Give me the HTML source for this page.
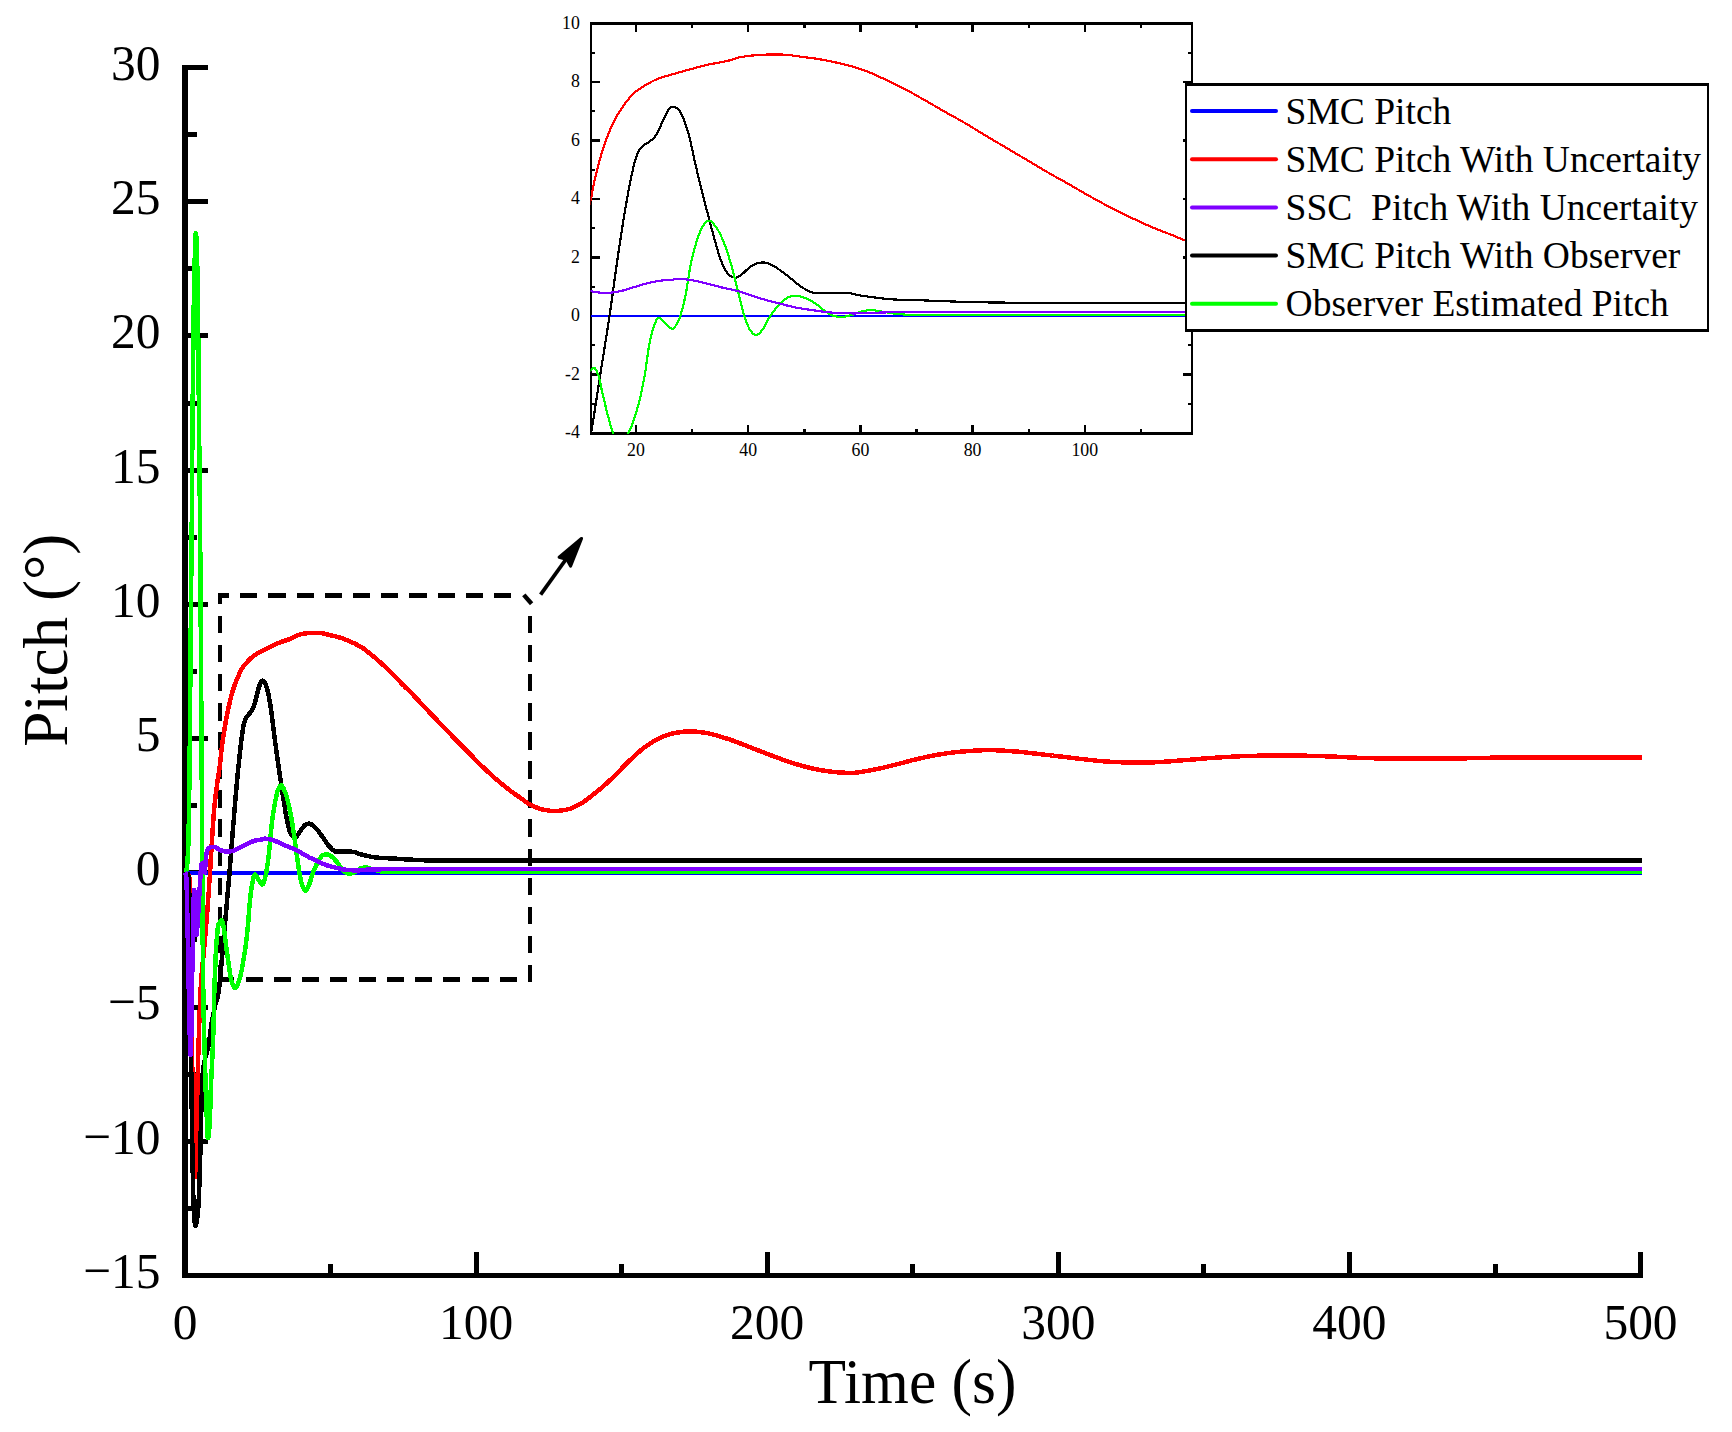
<!DOCTYPE html>
<html><head><meta charset="utf-8"><title>Pitch</title><style>html,body{margin:0;padding:0;background:#fff}svg{display:block}</style></head><body>
<svg width="1732" height="1432" viewBox="0 0 1732 1432">
<rect width="1732" height="1432" fill="#fff"/>
<defs><clipPath id="ic"><rect x="590.5" y="23.5" width="601.5" height="410.5"/></clipPath></defs>
<g stroke="#000" fill="none" shape-rendering="crispEdges">
<path stroke-width="6" d="M185 65V1278"/>
<path stroke-width="5" d="M182 1275.5H1643"/>
<path stroke-width="5" d="M185 1275.5H208M185 1208.4H197M185 1141.3H208M185 1074.2H197M185 1007.0H208M185 939.9H197M185 872.8H208M185 805.7H197M185 738.6H208M185 671.5H197M185 604.4H208M185 537.3H197M185 470.2H208M185 403.1H197M185 335.9H208M185 268.8H197M185 201.7H208M185 134.6H197M185 67.5H208"/>
<path stroke-width="5" d="M330.6 1276V1264M476.1 1276V1252M621.7 1276V1264M767.2 1276V1252M912.8 1276V1264M1058.3 1276V1252M1203.9 1276V1264M1349.4 1276V1252M1495.0 1276V1264M1640.5 1276V1252"/>
</g>
<path fill="none" stroke="#000" stroke-width="4.8" shape-rendering="crispEdges" d="M240.1 595.5H257.3M268.3 595.5H285.5M296.5 595.5H313.7M324.8 595.5H342.0M353.0 595.5H370.2M381.2 595.5H398.4M409.4 595.5H426.6M437.6 595.5H454.8M465.9 595.5H483.1M494.1 595.5H511.3M218.2 595.5H229.1M218.2 979.8H234.3M245.7 979.8H262.7M273.9 979.8H290.9M302.1 979.8H319.1M330.4 979.8H347.4M358.6 979.8H375.6M386.8 979.8H403.8M415.0 979.8H432.0M443.2 979.8H460.2M471.5 979.8H488.5M499.7 979.8H516.7"/>
<path fill="none" stroke="#000" stroke-width="4" shape-rendering="crispEdges" d="M220.2 593.2V604.3M220.2 615.7V633.2M530.0 615.7V633.2M220.2 644.8V662.3M530.0 644.8V662.3M220.2 673.9V691.4M530.0 673.9V691.4M220.2 703.0V720.5M530.0 703.0V720.5M220.2 732.1V749.6M530.0 732.1V749.6M220.2 761.2V778.7M530.0 761.2V778.7M220.2 790.3V807.8M530.0 790.3V807.8M220.2 819.4V836.9M530.0 819.4V836.9M220.2 848.5V866.0M530.0 848.5V866.0M220.2 877.6V895.1M530.0 877.6V895.1M220.2 906.7V924.2M530.0 906.7V924.2M220.2 935.8V953.3M530.0 935.8V953.3M220.2 964.9V982.0M530.0 964.9V982.0"/>
<path fill="none" stroke="#000" stroke-width="4.4" d="M523.8 594.9L531.6 603.8"/>
<g fill="none" stroke-width="4.5" stroke-linejoin="round" shape-rendering="crispEdges">
<path stroke="#0000ff" d="M185.0 872.8H1642"/>
<path stroke="#ff0000" d="M185.0 872.7L185.1 872.7L185.2 872.7L185.3 872.7L185.5 872.7L185.6 872.8L185.7 872.8L185.8 872.8L185.9 872.8L186.0 872.9L186.2 872.9L186.3 873.0L186.4 873.0L186.5 873.1L186.6 873.2L186.7 873.2L186.9 873.3L187.0 873.4L187.1 873.5L187.2 873.6L187.3 873.7L187.4 873.8L187.6 873.9L187.7 874.0L187.8 874.2L187.9 874.3L188.0 874.5L188.1 874.6L188.3 874.8L188.4 875.0L188.5 875.1L188.6 875.3L188.7 875.5L188.8 875.7L189.0 875.9L189.1 876.2L189.2 876.8L189.3 877.8L189.4 879.0L189.5 880.7L189.7 882.6L189.8 885.0L189.9 887.7L190.0 890.7L190.1 894.1L190.2 897.9L190.4 903.2L190.5 915.8L190.6 933.6L190.7 953.1L190.8 970.9L190.9 983.7L191.1 994.4L191.2 1004.3L191.3 1013.5L191.4 1021.9L191.5 1029.6L191.6 1036.5L191.8 1042.8L191.9 1048.6L192.0 1054.1L192.1 1059.1L192.2 1063.9L192.3 1068.5L192.5 1072.8L192.6 1077.0L192.7 1081.1L192.8 1085.1L192.9 1089.2L193.0 1093.2L193.2 1097.1L193.3 1100.9L193.4 1104.6L193.5 1108.1L193.6 1111.6L193.7 1115.1L193.8 1118.5L194.0 1121.9L194.1 1125.4L194.2 1128.8L194.3 1132.4L194.4 1136.0L194.5 1140.1L194.7 1144.7L194.8 1149.6L194.9 1154.5L195.0 1159.4L195.1 1164.0L195.2 1168.1L195.4 1171.6L195.5 1174.3L195.6 1176.0L195.7 1176.5L195.8 1175.2L195.9 1172.1L196.1 1167.7L196.2 1162.5L196.3 1156.9L196.4 1151.5L196.5 1145.3L196.6 1137.8L196.8 1129.5L196.9 1121.0L197.0 1112.6L197.1 1105.1L197.2 1098.7L197.3 1092.9L197.5 1087.3L197.6 1081.9L197.7 1076.7L197.8 1071.8L197.9 1067.0L198.0 1062.4L198.2 1058.0L198.3 1053.8L198.4 1049.8L198.5 1046.0L198.6 1042.3L198.7 1038.7L198.9 1035.1L199.0 1031.6L199.1 1028.2L199.2 1024.8L199.3 1021.5L199.4 1018.3L199.6 1015.1L199.7 1012.1L199.8 1009.0L199.9 1006.1L200.0 1003.3L200.1 1000.5L200.3 997.8L200.4 995.3L200.5 992.8L200.6 990.4L200.7 988.2L200.8 986.0L201.0 984.0L201.1 982.0L201.2 980.2L201.3 978.5L201.4 976.9L201.5 975.3L201.7 973.9L201.8 972.4L201.9 971.1L202.0 969.8L202.1 968.5L202.2 967.3L202.3 966.1L202.5 964.9L202.6 963.8L202.7 962.7L202.8 961.6L202.9 960.5L203.0 959.4L203.2 958.4L203.3 957.3L203.4 956.2L203.5 955.0L203.6 953.9L203.7 952.7L203.9 951.5L204.0 950.2L204.1 948.9L204.2 947.7L204.3 946.4L204.4 945.1L204.6 943.8L204.7 942.5L204.8 941.2L204.9 939.9L205.0 938.6L205.1 937.3L205.3 936.0L205.4 934.7L205.5 933.4L205.6 932.0L205.7 930.7L205.8 929.3L206.0 927.9L206.1 926.5L206.2 925.1L206.3 923.7L206.4 922.3L206.5 920.8L206.7 919.3L206.8 917.9L206.9 916.4L207.0 914.9L207.1 913.4L207.2 911.9L207.4 910.4L207.5 908.8L207.6 907.3L207.7 905.7L207.8 904.2L207.9 902.6L208.1 901.0L208.2 899.4L208.3 897.8L208.4 896.2L208.5 894.5L208.6 892.9L208.8 891.3L208.9 889.6L209.0 887.9L209.1 886.2L209.2 884.5L209.3 882.8L209.5 881.1L209.6 879.4L209.7 877.6L209.8 875.8L209.9 873.9L210.0 872.1L210.2 870.2L210.3 868.3L210.4 866.3L210.5 864.4L210.6 862.5L210.7 860.5L210.8 858.6L211.0 856.6L211.1 854.7L211.2 852.8L211.3 850.8L211.4 848.9L211.5 847.1L211.7 845.2L211.8 843.4L211.9 841.6L212.0 839.8L212.1 838.0L212.2 836.2L212.4 834.4L212.5 832.6L212.6 830.8L212.7 829.0L212.8 827.3L212.9 825.5L213.1 823.8L213.2 822.1L213.3 820.4L213.4 818.8L213.5 817.2L213.6 815.7L213.8 814.2L213.9 812.8L214.0 811.5L214.1 810.2L214.2 809.0L214.3 807.7L214.5 806.5L214.6 805.4L214.7 804.2L214.8 803.1L214.9 802.0L215.0 801.0L215.2 799.9L215.3 798.9L215.4 797.9L215.5 796.9L215.6 795.9L215.7 794.9L215.9 794.0L216.0 793.0L216.1 792.1L216.2 791.2L216.3 790.2L216.4 789.3L216.6 788.4L216.7 787.5L216.8 786.6L216.9 785.7L217.0 784.8L217.1 784.0L217.3 783.1L217.4 782.3L217.5 781.5L217.6 780.7L217.7 779.9L217.8 779.1L218.0 778.3L218.1 777.6L218.2 776.8L218.3 776.1L218.4 775.4L218.5 774.6L218.7 773.9L218.8 773.1L218.9 772.4L219.0 771.6L219.1 770.8L219.2 770.0L219.3 769.2L219.5 768.4L219.6 767.6L219.7 766.7L219.8 765.8L219.9 764.9L220.0 763.9L220.2 762.9L220.3 761.8L220.4 760.7L220.5 759.6L220.6 758.5L220.7 757.3L220.9 756.1L221.0 755.0L221.1 753.8L221.2 752.7L221.3 751.6L221.4 750.5L221.6 749.5L221.7 748.5L221.8 747.6L221.9 746.7L222.0 745.8L222.1 744.9L222.3 744.0L222.4 743.2L222.5 742.4L222.6 741.6L222.7 740.7L222.8 740.0L223.0 739.2L223.1 738.4L223.2 737.6L223.3 736.8L223.4 736.1L223.5 735.3L223.7 734.5L223.8 733.8L223.9 733.0L224.0 732.3L224.1 731.5L224.2 730.7L224.4 730.0L224.5 729.2L224.6 728.5L224.7 727.8L224.8 727.0L224.9 726.3L225.1 725.6L225.2 724.9L225.3 724.2L225.4 723.5L225.5 722.8L225.6 722.1L225.8 721.4L226.5 717.4L227.2 713.7L227.9 710.1L228.7 706.8L229.4 703.6L230.1 700.5L230.8 697.6L231.6 694.9L232.3 692.4L233.0 690.0L233.8 687.8L234.5 685.6L235.2 683.6L235.9 681.7L236.7 679.9L237.4 678.1L238.1 676.4L238.9 674.7L239.6 673.1L240.3 671.6L241.0 670.2L241.8 668.9L242.5 667.8L243.2 666.7L243.9 665.7L244.7 664.8L245.4 664.0L246.1 663.1L246.9 662.3L247.6 661.6L248.3 660.8L249.0 660.1L249.8 659.3L250.5 658.6L251.2 657.9L252.0 657.2L252.7 656.6L253.4 656.0L254.1 655.5L254.9 655.0L255.6 654.5L256.3 654.0L257.0 653.6L257.8 653.2L258.5 652.8L259.2 652.4L260.0 652.1L260.7 651.7L261.4 651.3L262.1 651.0L262.9 650.6L263.6 650.2L264.3 649.9L265.1 649.5L265.8 649.1L266.5 648.8L267.2 648.4L268.0 648.1L268.7 647.7L269.4 647.3L270.1 647.0L270.9 646.7L271.6 646.3L272.3 646.0L273.1 645.6L273.8 645.3L274.5 644.9L275.2 644.6L276.0 644.2L276.7 643.9L277.4 643.5L278.2 643.2L278.9 642.9L279.6 642.6L280.3 642.3L281.1 642.0L281.8 641.7L282.5 641.5L283.2 641.2L284.0 641.0L284.7 640.7L285.4 640.5L286.2 640.3L286.9 640.1L287.6 639.8L288.3 639.6L289.1 639.3L289.8 639.0L290.5 638.8L291.3 638.5L292.0 638.1L292.7 637.7L293.4 637.3L294.2 636.8L294.9 636.4L295.6 636.0L296.3 635.7L297.1 635.4L297.8 635.2L298.5 634.9L299.3 634.7L300.0 634.5L300.7 634.3L301.4 634.2L302.2 634.0L302.9 633.9L303.6 633.7L304.4 633.6L305.1 633.5L305.8 633.4L306.5 633.3L307.3 633.2L308.0 633.1L308.7 633.1L309.4 633.0L310.2 632.9L310.9 632.9L311.6 632.8L312.4 632.8L313.1 632.8L313.8 632.8L314.5 632.8L315.3 632.8L316.0 632.8L316.7 632.8L317.5 632.8L318.2 632.8L318.9 632.8L319.6 632.9L320.4 632.9L321.1 633.0L321.8 633.1L322.5 633.3L323.3 633.4L324.0 633.6L324.7 633.8L325.5 634.0L326.2 634.2L326.9 634.4L327.6 634.5L328.4 634.7L329.1 634.9L329.8 635.1L330.6 635.2L331.3 635.4L332.0 635.5L332.7 635.7L333.5 635.9L334.2 636.1L334.9 636.2L335.6 636.4L336.4 636.6L337.1 636.8L337.8 637.0L338.6 637.2L339.3 637.4L340.0 637.6L340.7 637.8L341.5 638.1L342.2 638.3L342.9 638.6L343.6 638.8L344.4 639.1L345.1 639.4L345.8 639.7L346.6 639.9L347.3 640.2L348.0 640.5L348.7 640.9L349.5 641.2L350.2 641.5L350.9 641.8L351.7 642.1L352.4 642.5L353.1 642.8L353.8 643.1L354.6 643.5L355.3 643.9L356.0 644.2L356.7 644.6L357.5 645.0L358.2 645.4L358.9 645.8L359.7 646.2L360.4 646.6L361.1 647.0L361.8 647.5L362.6 648.0L363.3 648.4L364.0 649.0L364.8 649.5L365.5 650.0L366.2 650.6L366.9 651.2L367.7 651.8L368.4 652.4L369.1 653.0L369.8 653.6L370.6 654.1L371.3 654.7L372.0 655.3L372.8 655.9L373.5 656.5L374.2 657.1L374.9 657.7L375.7 658.3L376.4 658.9L377.1 659.6L377.9 660.2L378.6 660.8L379.3 661.5L380.0 662.1L380.8 662.8L381.5 663.4L382.2 664.1L382.9 664.8L383.7 665.4L384.4 666.1L385.1 666.8L385.9 667.5L386.6 668.3L387.3 669.0L388.0 669.7L388.8 670.4L389.5 671.1L390.2 671.9L391.0 672.6L391.7 673.3L392.4 674.1L393.1 674.8L393.9 675.5L394.6 676.3L395.3 677.0L396.0 677.7L396.8 678.5L397.5 679.2L398.2 680.0L399.0 680.7L399.7 681.5L400.4 682.2L401.1 683.0L401.9 683.7L402.6 684.5L403.3 685.2L404.1 685.9L404.8 686.6L405.5 687.4L406.2 688.1L407.0 688.8L407.7 689.5L408.4 690.2L409.1 690.9L409.9 691.7L410.6 692.4L411.3 693.1L412.1 693.8L412.8 694.6L413.5 695.3L414.2 696.1L415.0 696.8L415.7 697.6L416.4 698.4L417.2 699.2L417.9 699.9L418.6 700.7L419.3 701.5L420.1 702.3L420.8 703.1L421.5 703.9L422.2 704.7L423.0 705.5L423.7 706.2L424.4 707.0L425.2 707.8L425.9 708.6L426.6 709.3L427.3 710.1L428.1 710.8L428.8 711.6L429.5 712.4L430.3 713.1L431.0 713.9L431.7 714.6L432.4 715.4L433.2 716.1L433.9 716.9L434.6 717.7L435.3 718.4L436.1 719.2L436.8 719.9L437.5 720.7L438.3 721.5L439.0 722.2L439.7 723.0L440.4 723.7L441.2 724.5L441.9 725.3L442.6 726.0L443.4 726.8L444.1 727.6L444.8 728.3L445.5 729.1L446.3 729.8L447.0 730.6L447.7 731.4L448.4 732.1L449.2 732.9L449.9 733.7L450.6 734.4L451.4 735.2L452.1 736.0L452.8 736.7L453.5 737.5L454.3 738.3L455.0 739.0L455.7 739.8L456.5 740.5L457.2 741.3L457.9 742.0L458.6 742.7L459.4 743.5L460.1 744.2L460.8 744.9L461.5 745.6L462.3 746.4L463.0 747.1L463.7 747.8L464.5 748.5L465.2 749.2L465.9 749.9L466.6 750.7L467.4 751.4L468.1 752.1L468.8 752.9L469.6 753.6L470.3 754.3L471.0 755.1L471.7 755.8L472.5 756.6L473.2 757.4L473.9 758.1L474.6 758.9L475.4 759.6L476.1 760.4L476.8 761.1L477.6 761.8L478.3 762.6L479.0 763.3L479.7 764.0L480.5 764.7L481.2 765.4L481.9 766.1L482.6 766.8L483.4 767.5L484.1 768.2L484.8 768.9L485.6 769.6L486.3 770.3L487.0 770.9L487.7 771.6L488.5 772.3L489.2 772.9L489.9 773.6L490.7 774.3L491.4 774.9L492.1 775.6L492.8 776.2L493.6 776.9L494.3 777.5L495.0 778.2L495.7 778.8L496.5 779.4L497.2 780.1L497.9 780.7L498.7 781.3L499.4 781.9L500.1 782.5L500.8 783.1L501.6 783.7L502.3 784.4L503.0 785.0L503.8 785.5L504.5 786.1L505.2 786.7L505.9 787.3L506.7 787.9L507.4 788.5L508.1 789.1L508.8 789.6L509.6 790.2L510.3 790.7L511.0 791.3L511.8 791.8L512.5 792.4L513.2 792.9L513.9 793.4L514.7 793.9L515.4 794.4L516.1 794.9L516.9 795.4L517.6 795.9L518.3 796.4L519.0 796.9L519.8 797.4L520.5 797.9L521.2 798.4L521.9 798.9L522.7 799.5L523.4 800.0L524.1 800.6L524.9 801.1L525.6 801.7L526.3 802.2L527.0 802.7L527.8 803.2L528.5 803.6L529.2 804.0L530.0 804.4L530.7 804.8L531.4 805.1L532.1 805.5L532.9 805.9L533.6 806.2L534.3 806.5L535.0 806.9L535.8 807.2L536.5 807.5L537.2 807.8L538.0 808.1L538.7 808.3L539.4 808.6L540.1 808.8L540.9 809.0L541.6 809.2L542.3 809.4L543.1 809.5L543.8 809.7L544.5 809.8L545.2 810.0L546.0 810.1L546.7 810.2L547.4 810.4L548.1 810.5L548.9 810.6L549.6 810.7L550.3 810.8L551.1 810.9L551.8 811.0L552.5 811.0L553.2 811.0L554.0 811.1L554.7 811.1L555.4 811.0L556.2 811.0L556.9 811.0L557.6 810.9L558.3 810.9L559.1 810.8L559.8 810.7L560.5 810.6L561.2 810.5L562.0 810.4L562.7 810.3L563.4 810.2L566.3 809.7L569.3 809.0L572.2 807.9L575.1 806.6L578.0 805.1L580.9 803.6L583.8 801.7L586.7 799.6L589.6 797.4L592.5 795.1L595.5 792.8L598.4 790.4L601.3 788.0L604.2 785.4L607.1 782.9L610.0 780.2L612.9 777.5L615.8 774.6L618.7 771.6L621.6 768.6L624.6 765.5L627.5 762.6L630.4 759.8L633.3 757.1L636.2 754.4L639.1 751.8L642.0 749.3L644.9 747.1L647.8 745.0L650.8 743.1L653.7 741.3L656.6 739.6L659.5 738.1L662.4 736.8L665.3 735.7L668.2 734.7L671.1 733.9L674.0 733.1L677.0 732.6L679.9 732.2L682.8 731.8L685.7 731.6L688.6 731.4L691.5 731.3L694.4 731.5L697.3 731.8L700.2 732.1L703.2 732.5L706.1 732.9L709.0 733.5L711.9 734.2L714.8 734.9L717.7 735.8L720.6 736.7L723.5 737.6L726.4 738.5L729.4 739.4L732.3 740.4L735.2 741.5L738.1 742.6L741.0 743.7L743.9 744.8L746.8 746.0L749.7 747.1L752.6 748.2L755.6 749.3L758.5 750.5L761.4 751.6L764.3 752.8L767.2 753.9L770.1 755.0L773.0 756.1L775.9 757.1L778.8 758.2L781.8 759.3L784.7 760.3L787.6 761.4L790.5 762.4L793.4 763.3L796.3 764.2L799.2 765.0L802.1 765.8L805.0 766.6L808.0 767.4L810.9 768.1L813.8 768.8L816.7 769.4L819.6 769.9L822.5 770.4L825.4 770.9L828.3 771.3L831.2 771.7L834.2 772.0L837.1 772.3L840.0 772.5L842.9 772.7L845.8 772.8L848.7 772.9L851.6 772.9L854.5 772.8L857.4 772.5L860.4 772.1L863.3 771.6L866.2 771.1L869.1 770.5L872.0 770.0L874.9 769.5L877.8 768.9L880.7 768.3L883.6 767.6L886.6 766.9L889.5 766.2L892.4 765.4L895.3 764.7L898.2 764.0L901.1 763.2L904.0 762.5L906.9 761.7L909.8 760.9L912.8 760.1L915.7 759.4L918.6 758.7L921.5 758.1L924.4 757.4L927.3 756.8L930.2 756.2L933.1 755.6L936.0 755.0L938.9 754.5L941.9 754.1L944.8 753.6L947.7 753.2L950.6 752.8L953.5 752.4L956.4 752.1L959.3 751.8L962.2 751.5L965.1 751.3L968.1 751.1L971.0 750.9L973.9 750.7L976.8 750.5L979.7 750.4L982.6 750.2L985.5 750.2L988.4 750.1L991.3 750.1L994.3 750.2L997.2 750.3L1000.1 750.4L1003.0 750.6L1005.9 750.8L1008.8 751.0L1011.7 751.2L1014.6 751.4L1017.5 751.6L1020.5 751.9L1023.4 752.2L1026.3 752.6L1029.2 752.9L1032.1 753.2L1035.0 753.6L1037.9 753.9L1040.8 754.2L1043.7 754.6L1046.7 754.9L1049.6 755.2L1052.5 755.6L1055.4 755.9L1058.3 756.3L1061.2 756.6L1064.1 756.9L1067.0 757.3L1069.9 757.6L1072.9 758.0L1075.8 758.3L1078.7 758.7L1081.6 759.0L1084.5 759.3L1087.4 759.7L1090.3 760.0L1093.2 760.3L1096.1 760.7L1099.1 761.0L1102.0 761.2L1104.9 761.4L1107.8 761.6L1110.7 761.8L1113.6 761.9L1116.5 762.0L1119.4 762.2L1122.3 762.3L1125.3 762.4L1128.2 762.5L1131.1 762.6L1134.0 762.7L1136.9 762.7L1139.8 762.7L1142.7 762.7L1145.6 762.6L1148.5 762.5L1151.5 762.4L1154.4 762.3L1157.3 762.1L1160.2 761.9L1163.1 761.8L1166.0 761.6L1168.9 761.4L1171.8 761.2L1174.7 760.9L1177.7 760.7L1180.6 760.5L1183.5 760.2L1186.4 760.0L1189.3 759.8L1192.2 759.5L1195.1 759.3L1198.0 759.0L1200.9 758.8L1203.8 758.5L1206.8 758.3L1209.7 758.1L1212.6 757.9L1215.5 757.7L1218.4 757.5L1221.3 757.3L1224.2 757.1L1227.1 757.0L1230.0 756.8L1233.0 756.6L1235.9 756.5L1238.8 756.3L1241.7 756.2L1244.6 756.1L1247.5 756.0L1250.4 755.9L1253.3 755.8L1256.2 755.8L1259.2 755.7L1262.1 755.6L1265.0 755.6L1267.9 755.5L1270.8 755.5L1273.7 755.4L1276.6 755.4L1279.5 755.4L1282.4 755.4L1285.4 755.4L1288.3 755.4L1291.2 755.4L1294.1 755.4L1297.0 755.5L1299.9 755.5L1302.8 755.6L1305.7 755.7L1308.6 755.8L1311.6 755.9L1314.5 755.9L1317.4 756.0L1320.3 756.1L1323.2 756.2L1326.1 756.3L1329.0 756.4L1331.9 756.5L1334.8 756.7L1337.8 756.8L1340.7 756.9L1343.6 757.1L1346.5 757.2L1349.4 757.4L1352.3 757.5L1355.2 757.7L1358.1 757.8L1361.0 757.9L1364.0 758.0L1366.9 758.1L1369.8 758.1L1372.7 758.2L1375.6 758.3L1378.5 758.4L1381.4 758.5L1384.3 758.5L1387.2 758.6L1390.2 758.7L1393.1 758.7L1396.0 758.7L1398.9 758.7L1401.8 758.7L1404.7 758.7L1407.6 758.7L1410.5 758.7L1413.4 758.7L1416.4 758.7L1419.3 758.7L1422.2 758.7L1425.1 758.7L1428.0 758.7L1430.9 758.7L1433.8 758.7L1436.7 758.7L1439.6 758.7L1442.6 758.7L1445.5 758.6L1448.4 758.6L1451.3 758.6L1454.2 758.5L1457.1 758.4L1460.0 758.4L1462.9 758.3L1465.8 758.3L1468.8 758.2L1471.7 758.2L1474.6 758.1L1477.5 758.1L1480.4 758.0L1483.3 757.9L1486.2 757.9L1489.1 757.8L1492.0 757.7L1495.0 757.7L1497.9 757.6L1500.8 757.6L1503.7 757.5L1506.6 757.5L1509.5 757.5L1512.4 757.5L1515.3 757.5L1518.2 757.5L1521.1 757.4L1524.1 757.4L1527.0 757.4L1529.9 757.4L1532.8 757.4L1535.7 757.4L1538.6 757.4L1541.5 757.4L1544.4 757.4L1547.3 757.4L1550.3 757.4L1553.2 757.4L1556.1 757.4L1559.0 757.4L1561.9 757.4L1564.8 757.4L1567.7 757.4L1570.6 757.4L1573.5 757.4L1576.5 757.4L1579.4 757.4L1582.3 757.4L1585.2 757.4L1588.1 757.4L1591.0 757.4L1593.9 757.4L1596.8 757.4L1599.7 757.4L1602.7 757.4L1605.6 757.5L1608.5 757.5L1611.4 757.5L1614.3 757.5L1617.2 757.5L1620.1 757.5L1623.0 757.5L1625.9 757.5L1628.9 757.6L1631.8 757.6L1634.7 757.6L1637.6 757.6L1640.5 757.6H1642"/>
<path stroke="#000000" d="M185.0 872.7L185.1 872.7L185.2 872.7L185.3 872.7L185.5 872.7L185.6 872.7L185.7 872.8L185.8 872.8L185.9 872.8L186.0 872.8L186.2 872.9L186.3 872.9L186.4 873.0L186.5 873.0L186.6 873.1L186.7 873.1L186.9 873.2L187.0 873.2L187.1 873.3L187.2 873.4L187.3 873.5L187.4 873.5L187.6 873.6L187.7 873.7L187.8 873.8L187.9 873.9L188.0 874.0L188.1 874.4L188.3 875.1L188.4 876.0L188.5 877.3L188.6 878.9L188.7 880.8L188.8 882.9L189.0 885.4L189.1 888.1L189.2 891.0L189.3 894.2L189.4 897.7L189.5 901.6L189.7 908.8L189.8 919.3L189.9 932.1L190.0 946.1L190.1 960.3L190.2 973.7L190.4 985.7L190.5 997.6L190.6 1009.7L190.7 1021.8L190.8 1033.6L190.9 1045.1L191.1 1056.0L191.2 1066.2L191.3 1076.0L191.4 1085.4L191.5 1094.3L191.6 1102.6L191.8 1110.5L191.9 1118.1L192.0 1125.4L192.1 1132.5L192.2 1139.4L192.3 1146.2L192.5 1153.1L192.6 1160.3L192.7 1167.6L192.8 1174.7L192.9 1181.4L193.0 1187.4L193.2 1192.3L193.3 1196.1L193.4 1199.6L193.5 1202.8L193.6 1205.8L193.7 1208.5L193.8 1210.9L194.0 1213.1L194.1 1215.1L194.2 1216.8L194.3 1218.2L194.4 1219.5L194.5 1220.8L194.7 1222.0L194.8 1223.1L194.9 1224.1L195.0 1224.8L195.1 1225.4L195.2 1225.7L195.4 1225.7L195.5 1225.6L195.6 1225.5L195.7 1225.3L195.8 1225.0L195.9 1224.8L196.1 1224.4L196.2 1224.1L196.3 1223.7L196.4 1223.3L196.5 1222.9L196.6 1222.4L196.8 1221.8L196.9 1221.1L197.0 1220.4L197.1 1219.5L197.2 1218.6L197.3 1217.6L197.5 1216.5L197.6 1215.4L197.7 1214.2L197.8 1213.0L197.9 1211.7L198.0 1210.4L198.2 1208.9L198.3 1207.2L198.4 1205.4L198.5 1203.5L198.6 1201.5L198.7 1199.3L198.9 1197.0L199.0 1194.6L199.1 1192.0L199.2 1189.0L199.3 1185.8L199.4 1182.3L199.6 1178.6L199.7 1174.7L199.8 1170.7L199.9 1166.5L200.0 1162.3L200.1 1158.0L200.3 1153.7L200.4 1149.3L200.5 1144.6L200.6 1139.6L200.7 1134.4L200.8 1129.1L201.0 1123.9L201.1 1118.9L201.2 1114.2L201.3 1109.9L201.4 1105.9L201.5 1101.8L201.7 1097.8L201.8 1093.8L201.9 1090.1L202.0 1086.7L202.1 1083.6L202.2 1080.9L202.3 1078.8L202.5 1077.1L202.6 1075.6L202.7 1074.2L202.8 1073.0L202.9 1071.8L203.0 1070.7L203.2 1069.7L203.3 1068.8L203.4 1067.9L203.5 1067.1L203.6 1066.3L203.7 1065.5L203.9 1064.8L204.0 1064.1L204.1 1063.4L204.2 1062.8L204.3 1062.2L204.4 1061.6L204.6 1061.0L204.7 1060.4L204.8 1059.9L204.9 1059.4L205.0 1058.9L205.1 1058.4L205.3 1058.0L205.4 1057.5L205.5 1057.1L205.6 1056.7L205.7 1056.3L205.8 1055.9L206.0 1055.5L206.1 1055.1L206.2 1054.7L206.3 1054.3L206.4 1053.9L206.5 1053.5L206.7 1053.1L206.8 1052.7L206.9 1052.3L207.0 1051.9L207.1 1051.5L207.2 1051.1L207.4 1050.6L207.5 1050.2L207.6 1049.7L207.7 1049.3L207.8 1048.8L207.9 1048.2L208.1 1047.7L208.2 1047.2L208.3 1046.6L208.4 1046.0L208.5 1045.3L208.6 1044.7L208.8 1044.0L208.9 1043.2L209.0 1042.4L209.1 1041.6L209.2 1040.8L209.3 1040.0L209.5 1039.1L209.6 1038.2L209.7 1037.3L209.8 1036.4L209.9 1035.5L210.0 1034.6L210.2 1033.7L210.3 1032.8L210.4 1031.9L210.5 1031.0L210.6 1030.1L210.7 1029.2L210.8 1028.4L211.0 1027.5L211.1 1026.7L211.2 1025.9L211.3 1025.1L211.4 1024.4L211.5 1023.7L211.7 1023.0L211.8 1022.3L211.9 1021.7L212.0 1021.0L212.1 1020.3L212.2 1019.7L212.4 1019.0L212.5 1018.4L212.6 1017.8L212.7 1017.1L212.8 1016.5L212.9 1015.9L213.1 1015.3L213.2 1014.7L213.3 1014.1L213.4 1013.5L213.5 1012.9L213.6 1012.4L213.8 1011.8L213.9 1011.2L214.0 1010.7L214.1 1010.1L214.2 1009.6L214.3 1009.0L214.5 1008.5L214.6 1007.9L214.7 1007.4L214.8 1006.9L214.9 1006.3L215.0 1005.8L215.2 1005.3L215.3 1004.8L215.4 1004.4L215.5 1003.9L215.6 1003.5L215.7 1003.1L215.9 1002.7L216.0 1002.3L216.1 1001.9L216.2 1001.5L216.3 1001.1L216.4 1000.7L216.6 1000.4L216.7 1000.0L216.8 999.6L216.9 999.2L217.0 998.9L217.1 998.5L217.3 998.1L217.4 997.7L217.5 997.2L217.6 996.8L217.7 996.3L217.8 995.9L218.0 995.4L218.1 994.9L218.2 994.3L218.3 993.8L218.4 993.2L218.5 992.6L218.7 992.0L218.8 991.3L218.9 990.6L219.0 989.8L219.1 988.9L219.2 987.8L219.3 986.6L219.5 985.3L219.6 984.0L219.7 982.7L219.8 981.4L219.9 980.2L220.0 979.0L220.2 977.7L220.3 976.5L220.4 975.2L220.5 974.0L220.6 972.7L220.7 971.4L220.9 970.1L221.0 968.9L221.1 967.6L221.2 966.3L221.3 965.0L221.4 963.7L221.6 962.3L221.7 961.0L221.8 959.7L221.9 958.4L222.0 957.0L222.1 955.7L222.3 954.4L222.4 953.0L222.5 951.7L222.6 950.4L222.7 949.0L222.8 947.7L223.0 946.3L223.1 945.0L223.2 943.7L223.3 942.3L223.4 941.0L223.5 939.6L223.7 938.3L223.8 937.0L223.9 935.7L224.0 934.3L224.1 933.0L224.2 931.7L224.4 930.4L224.5 929.1L224.6 927.8L224.7 926.5L224.8 925.2L224.9 923.9L225.1 922.6L225.2 921.3L225.3 920.0L225.4 918.7L225.5 917.4L225.6 916.2L225.8 914.9L226.5 906.8L227.2 898.8L227.9 890.6L228.7 882.3L229.4 873.8L230.1 865.1L230.8 856.0L231.6 846.7L232.3 837.4L233.0 828.2L233.8 819.3L234.5 810.5L235.2 801.8L235.9 793.2L236.7 785.0L237.4 777.3L238.1 769.7L238.9 762.4L239.6 755.6L240.3 749.1L241.0 742.9L241.8 737.1L242.5 731.9L243.2 727.6L243.9 723.9L244.7 721.2L245.4 719.3L246.1 717.8L246.9 716.6L247.6 715.7L248.3 714.9L249.0 714.1L249.8 713.3L250.5 712.3L251.2 711.4L252.0 710.3L252.7 709.1L253.4 707.3L254.1 705.0L254.9 702.5L255.6 700.0L256.3 697.2L257.0 694.2L257.8 691.2L258.5 688.6L259.2 686.3L260.0 684.1L260.7 682.4L261.4 681.4L262.1 680.7L262.9 680.7L263.6 681.2L264.3 681.9L265.1 682.9L265.8 684.6L266.5 686.9L267.2 689.5L268.0 692.3L268.7 695.7L269.4 699.5L270.1 703.7L270.9 708.3L271.6 713.6L272.3 719.5L273.1 725.5L273.8 731.3L274.5 736.9L275.2 742.4L276.0 747.8L276.7 753.2L277.4 758.4L278.2 763.4L278.9 768.4L279.6 773.3L280.3 778.1L281.1 783.0L281.8 787.9L282.5 792.8L283.2 797.5L284.0 802.2L284.7 806.9L285.4 811.5L286.2 815.8L286.9 819.6L287.6 823.1L288.3 826.4L289.1 829.1L289.8 831.3L290.5 833.1L291.3 834.7L292.0 835.8L292.7 836.5L293.4 837.1L294.2 837.4L294.9 837.6L295.6 837.4L296.3 836.8L297.1 835.9L297.8 834.9L298.5 834.0L299.3 832.8L300.0 831.6L300.7 830.4L301.4 829.2L302.2 828.2L302.9 827.4L303.6 826.5L304.4 825.7L305.1 825.0L305.8 824.5L306.5 824.2L307.3 824.0L308.0 823.8L308.7 823.7L309.4 823.7L310.2 823.8L310.9 824.1L311.6 824.6L312.4 825.1L313.1 825.6L313.8 826.1L314.5 826.8L315.3 827.6L316.0 828.4L316.7 829.3L317.5 830.1L318.2 831.0L318.9 831.9L319.6 832.9L320.4 833.8L321.1 834.9L321.8 835.9L322.5 836.9L323.3 837.9L324.0 838.9L324.7 840.0L325.5 841.0L326.2 842.1L326.9 843.2L327.6 844.3L328.4 845.3L329.1 846.2L329.8 847.0L330.6 847.7L331.3 848.5L332.0 849.2L332.7 849.8L333.5 850.3L334.2 850.8L334.9 851.3L335.6 851.6L336.4 851.6L337.1 851.6L337.8 851.6L338.6 851.6L339.3 851.6L340.0 851.6L340.7 851.6L341.5 851.6L342.2 851.6L342.9 851.6L343.6 851.6L344.4 851.6L345.1 851.6L345.8 851.6L346.6 851.6L347.3 851.6L348.0 851.6L348.7 851.6L349.5 851.7L350.2 851.7L350.9 851.7L351.7 851.8L352.4 851.8L353.1 851.9L353.8 851.9L354.6 852.1L355.3 852.3L356.0 852.6L356.7 852.8L357.5 853.2L358.2 853.4L358.9 853.7L359.7 854.0L360.4 854.2L361.1 854.4L361.8 854.6L362.6 854.7L363.3 854.9L364.0 855.1L364.8 855.3L365.5 855.4L366.2 855.6L366.9 855.8L367.7 855.9L368.4 856.1L369.1 856.3L369.8 856.4L370.6 856.6L371.3 856.8L372.0 856.9L372.8 857.1L373.5 857.2L374.2 857.3L374.9 857.4L375.7 857.5L376.4 857.6L377.1 857.6L377.9 857.7L378.6 857.7L379.3 857.8L380.0 857.8L380.8 857.9L381.5 857.9L382.2 858.0L382.9 858.0L383.7 858.0L384.4 858.1L385.1 858.1L385.9 858.1L386.6 858.2L387.3 858.2L388.0 858.2L388.8 858.3L389.5 858.3L390.2 858.3L391.0 858.4L391.7 858.4L392.4 858.5L393.1 858.5L393.9 858.6L394.6 858.6L395.3 858.7L396.0 858.7L396.8 858.8L397.5 858.8L398.2 858.9L399.0 858.9L399.7 859.0L400.4 859.0L401.1 859.1L401.9 859.1L402.6 859.2L403.3 859.2L404.1 859.2L404.8 859.3L405.5 859.3L406.2 859.4L407.0 859.4L407.7 859.5L408.4 859.5L409.1 859.5L409.9 859.6L410.6 859.6L411.3 859.7L412.1 859.7L412.8 859.8L413.5 859.8L414.2 859.8L415.0 859.9L415.7 859.9L416.4 860.0L417.2 860.0L417.9 860.0L418.6 860.1L419.3 860.1L420.1 860.1L420.8 860.2L421.5 860.2L422.2 860.2L423.0 860.2L423.7 860.2L424.4 860.3L425.2 860.3L425.9 860.3L426.6 860.3L427.3 860.3L428.1 860.3L428.8 860.3L429.5 860.4L430.3 860.4L431.0 860.4L431.7 860.4L432.4 860.4L433.2 860.4L433.9 860.4L434.6 860.5L435.3 860.5L436.1 860.5L436.8 860.5L437.5 860.5L438.3 860.5L439.0 860.5L439.7 860.5L440.4 860.6L441.2 860.6L441.9 860.6L442.6 860.6L443.4 860.6L444.1 860.6L444.8 860.6L445.5 860.6L446.3 860.6L447.0 860.6L447.7 860.6L448.4 860.6L449.2 860.6L449.9 860.7L450.6 860.7L451.4 860.7L452.1 860.7L452.8 860.7L453.5 860.7L454.3 860.7L455.0 860.7L455.7 860.7L456.5 860.7L457.2 860.7L457.9 860.7L458.6 860.7L459.4 860.7L460.1 860.7L460.8 860.7L461.5 860.7L462.3 860.7L463.0 860.7L463.7 860.7L464.5 860.7L465.2 860.7L465.9 860.7L466.6 860.7L467.4 860.7L468.1 860.7L468.8 860.7L469.6 860.7L470.3 860.7L471.0 860.7L471.7 860.7L472.5 860.7L473.2 860.7L473.9 860.7L474.6 860.7L475.4 860.7L476.1 860.7L476.8 860.7L477.6 860.7L478.3 860.7L479.0 860.7L479.7 860.7L480.5 860.7L481.2 860.7L481.9 860.7L482.6 860.7L483.4 860.7L484.1 860.7L484.8 860.7L485.6 860.7L486.3 860.7L487.0 860.7L487.7 860.7L488.5 860.7L489.2 860.7L489.9 860.7L490.7 860.7L491.4 860.7L492.1 860.7L492.8 860.7L493.6 860.7L494.3 860.7L495.0 860.7L495.7 860.7L496.5 860.7L497.2 860.7L497.9 860.7L498.7 860.7L499.4 860.7L500.1 860.7L500.8 860.7L501.6 860.7L502.3 860.7L503.0 860.7L503.8 860.7L504.5 860.7L505.2 860.7L505.9 860.7L506.7 860.7L507.4 860.7L508.1 860.7L508.8 860.7L509.6 860.7L510.3 860.7L511.0 860.7L511.8 860.7L512.5 860.7L513.2 860.7L513.9 860.7L514.7 860.7L515.4 860.7L516.1 860.7L516.9 860.7L517.6 860.7L518.3 860.7L519.0 860.7L519.8 860.7L520.5 860.7L521.2 860.7L521.9 860.7L522.7 860.7L523.4 860.7L524.1 860.7L524.9 860.7L525.6 860.7L526.3 860.7L527.0 860.7L527.8 860.7L528.5 860.7L529.2 860.7L530.0 860.7L530.7 860.7L531.4 860.7L532.1 860.7L532.9 860.7L533.6 860.7L534.3 860.7L535.0 860.7L535.8 860.7L536.5 860.7L537.2 860.7L538.0 860.7L538.7 860.7L539.4 860.7L540.1 860.7L540.9 860.7L541.6 860.7L542.3 860.7L543.1 860.7L543.8 860.7L544.5 860.7L545.2 860.7L546.0 860.7L546.7 860.7L547.4 860.7L548.1 860.7L548.9 860.7L549.6 860.7L550.3 860.7L551.1 860.7L551.8 860.7L552.5 860.7L553.2 860.7L554.0 860.7L554.7 860.7L555.4 860.7L556.2 860.7L556.9 860.7L557.6 860.7L558.3 860.7L559.1 860.7L559.8 860.7L560.5 860.7L561.2 860.7L562.0 860.7L562.7 860.7L563.4 860.7L566.3 860.7L569.3 860.7L572.2 860.7L575.1 860.7L578.0 860.7L580.9 860.7L583.8 860.7L586.7 860.7L589.6 860.7L592.5 860.7L595.5 860.7L598.4 860.7L601.3 860.7L604.2 860.7L607.1 860.7L610.0 860.7L612.9 860.7L615.8 860.7L618.7 860.7L621.6 860.7L624.6 860.7L627.5 860.7L630.4 860.7L633.3 860.7L636.2 860.7L639.1 860.7L642.0 860.7L644.9 860.7L647.8 860.7L650.8 860.7L653.7 860.7L656.6 860.7L659.5 860.7L662.4 860.7L665.3 860.7L668.2 860.7L671.1 860.7L674.0 860.7L677.0 860.7L679.9 860.7L682.8 860.7L685.7 860.7L688.6 860.7L691.5 860.7L694.4 860.7L697.3 860.7L700.2 860.7L703.2 860.7L706.1 860.7L709.0 860.7L711.9 860.7L714.8 860.7L717.7 860.7L720.6 860.7L723.5 860.7L726.4 860.7L729.4 860.7L732.3 860.7L735.2 860.7L738.1 860.7L741.0 860.7L743.9 860.7L746.8 860.7L749.7 860.7L752.6 860.7L755.6 860.7L758.5 860.7L761.4 860.7L764.3 860.7L767.2 860.7L770.1 860.7L773.0 860.7L775.9 860.7L778.8 860.7L781.8 860.7L784.7 860.7L787.6 860.7L790.5 860.7L793.4 860.7L796.3 860.7L799.2 860.7L802.1 860.7L805.0 860.7L808.0 860.7L810.9 860.7L813.8 860.7L816.7 860.7L819.6 860.7L822.5 860.7L825.4 860.7L828.3 860.7L831.2 860.7L834.2 860.7L837.1 860.7L840.0 860.7L842.9 860.7L845.8 860.7L848.7 860.7L851.6 860.7L854.5 860.7L857.4 860.7L860.4 860.7L863.3 860.7L866.2 860.7L869.1 860.7L872.0 860.7L874.9 860.7L877.8 860.7L880.7 860.7L883.6 860.7L886.6 860.7L889.5 860.7L892.4 860.7L895.3 860.7L898.2 860.7L901.1 860.7L904.0 860.7L906.9 860.7L909.8 860.7L912.8 860.7L915.7 860.7L918.6 860.7L921.5 860.7L924.4 860.7L927.3 860.7L930.2 860.7L933.1 860.7L936.0 860.7L938.9 860.7L941.9 860.7L944.8 860.7L947.7 860.7L950.6 860.7L953.5 860.7L956.4 860.7L959.3 860.7L962.2 860.7L965.1 860.7L968.1 860.7L971.0 860.7L973.9 860.7L976.8 860.7L979.7 860.7L982.6 860.7L985.5 860.7L988.4 860.7L991.3 860.7L994.3 860.7L997.2 860.7L1000.1 860.7L1003.0 860.7L1005.9 860.7L1008.8 860.7L1011.7 860.7L1014.6 860.7L1017.5 860.7L1020.5 860.7L1023.4 860.7L1026.3 860.7L1029.2 860.7L1032.1 860.7L1035.0 860.7L1037.9 860.7L1040.8 860.7L1043.7 860.7L1046.7 860.7L1049.6 860.7L1052.5 860.7L1055.4 860.7L1058.3 860.7L1061.2 860.7L1064.1 860.7L1067.0 860.7L1069.9 860.7L1072.9 860.7L1075.8 860.7L1078.7 860.7L1081.6 860.7L1084.5 860.7L1087.4 860.7L1090.3 860.7L1093.2 860.7L1096.1 860.7L1099.1 860.7L1102.0 860.7L1104.9 860.7L1107.8 860.7L1110.7 860.7L1113.6 860.7L1116.5 860.7L1119.4 860.7L1122.3 860.7L1125.3 860.7L1128.2 860.7L1131.1 860.7L1134.0 860.7L1136.9 860.7L1139.8 860.7L1142.7 860.7L1145.6 860.7L1148.5 860.7L1151.5 860.7L1154.4 860.7L1157.3 860.7L1160.2 860.7L1163.1 860.7L1166.0 860.7L1168.9 860.7L1171.8 860.7L1174.7 860.7L1177.7 860.7L1180.6 860.7L1183.5 860.7L1186.4 860.7L1189.3 860.7L1192.2 860.7L1195.1 860.7L1198.0 860.7L1200.9 860.7L1203.8 860.7L1206.8 860.7L1209.7 860.7L1212.6 860.7L1215.5 860.7L1218.4 860.7L1221.3 860.7L1224.2 860.7L1227.1 860.7L1230.0 860.7L1233.0 860.7L1235.9 860.7L1238.8 860.7L1241.7 860.7L1244.6 860.7L1247.5 860.7L1250.4 860.7L1253.3 860.7L1256.2 860.7L1259.2 860.7L1262.1 860.7L1265.0 860.7L1267.9 860.7L1270.8 860.7L1273.7 860.7L1276.6 860.7L1279.5 860.7L1282.4 860.7L1285.4 860.7L1288.3 860.7L1291.2 860.7L1294.1 860.7L1297.0 860.7L1299.9 860.7L1302.8 860.7L1305.7 860.7L1308.6 860.7L1311.6 860.7L1314.5 860.7L1317.4 860.7L1320.3 860.7L1323.2 860.7L1326.1 860.7L1329.0 860.7L1331.9 860.7L1334.8 860.7L1337.8 860.7L1340.7 860.7L1343.6 860.7L1346.5 860.7L1349.4 860.7L1352.3 860.7L1355.2 860.7L1358.1 860.7L1361.0 860.7L1364.0 860.7L1366.9 860.7L1369.8 860.7L1372.7 860.7L1375.6 860.7L1378.5 860.7L1381.4 860.7L1384.3 860.7L1387.2 860.7L1390.2 860.7L1393.1 860.7L1396.0 860.7L1398.9 860.7L1401.8 860.7L1404.7 860.7L1407.6 860.7L1410.5 860.7L1413.4 860.7L1416.4 860.7L1419.3 860.7L1422.2 860.7L1425.1 860.7L1428.0 860.7L1430.9 860.7L1433.8 860.7L1436.7 860.7L1439.6 860.7L1442.6 860.7L1445.5 860.7L1448.4 860.7L1451.3 860.7L1454.2 860.7L1457.1 860.7L1460.0 860.7L1462.9 860.7L1465.8 860.7L1468.8 860.7L1471.7 860.7L1474.6 860.7L1477.5 860.7L1480.4 860.7L1483.3 860.7L1486.2 860.7L1489.1 860.7L1492.0 860.7L1495.0 860.7L1497.9 860.7L1500.8 860.7L1503.7 860.7L1506.6 860.7L1509.5 860.7L1512.4 860.7L1515.3 860.7L1518.2 860.7L1521.1 860.7L1524.1 860.7L1527.0 860.7L1529.9 860.7L1532.8 860.7L1535.7 860.7L1538.6 860.7L1541.5 860.7L1544.4 860.7L1547.3 860.7L1550.3 860.7L1553.2 860.7L1556.1 860.7L1559.0 860.7L1561.9 860.7L1564.8 860.7L1567.7 860.7L1570.6 860.7L1573.5 860.7L1576.5 860.7L1579.4 860.7L1582.3 860.7L1585.2 860.7L1588.1 860.7L1591.0 860.7L1593.9 860.7L1596.8 860.7L1599.7 860.7L1602.7 860.7L1605.6 860.7L1608.5 860.7L1611.4 860.7L1614.3 860.7L1617.2 860.7L1620.1 860.7L1623.0 860.7L1625.9 860.7L1628.9 860.7L1631.8 860.7L1634.7 860.7L1637.6 860.7L1640.5 860.7H1642"/>
<path stroke="#00ff00" d="M185.0 872.7L185.1 872.7L185.2 872.6L185.3 872.5L185.5 872.4L185.6 872.2L185.7 872.0L185.8 871.8L185.9 871.6L186.0 871.3L186.2 871.0L186.3 870.7L186.4 870.3L186.5 870.0L186.6 869.5L186.7 868.8L186.9 868.0L187.0 866.9L187.1 865.8L187.2 864.4L187.3 862.9L187.4 861.2L187.6 859.4L187.7 857.5L187.8 855.4L187.9 853.2L188.0 850.9L188.1 848.4L188.3 845.9L188.4 843.0L188.5 839.1L188.6 834.3L188.7 828.4L188.8 821.7L189.0 814.1L189.1 805.7L189.2 796.6L189.3 786.8L189.4 776.4L189.5 765.5L189.7 754.0L189.8 742.1L189.9 729.8L190.0 717.1L190.1 704.2L190.2 691.1L190.4 677.7L190.5 664.3L190.6 650.8L190.7 637.3L190.8 623.9L190.9 610.6L191.1 597.4L191.2 584.5L191.3 571.9L191.4 559.6L191.5 547.0L191.6 533.6L191.8 519.5L191.9 505.0L192.0 490.2L192.1 475.2L192.2 460.1L192.3 445.2L192.5 430.6L192.6 416.4L192.7 402.7L192.8 389.8L192.9 377.7L193.0 366.7L193.2 356.7L193.3 347.0L193.4 337.5L193.5 328.1L193.6 319.1L193.7 310.3L193.8 302.0L194.0 294.1L194.1 286.7L194.2 279.9L194.3 273.8L194.4 268.4L194.5 263.8L194.7 259.9L194.8 256.1L194.9 252.4L195.0 248.8L195.1 245.4L195.2 242.4L195.4 239.6L195.5 237.3L195.6 235.4L195.7 234.1L195.8 233.3L195.9 233.3L196.1 233.8L196.2 235.0L196.3 236.7L196.4 238.9L196.5 241.5L196.6 244.5L196.8 247.8L196.9 251.3L197.0 255.0L197.1 258.9L197.2 262.9L197.3 267.9L197.5 274.1L197.6 281.5L197.7 289.8L197.8 299.1L197.9 309.2L198.0 319.9L198.2 331.1L198.3 342.8L198.4 354.8L198.5 367.0L198.6 379.3L198.7 391.5L198.9 403.5L199.0 415.3L199.1 426.9L199.2 438.6L199.3 450.5L199.4 462.7L199.6 475.1L199.7 487.8L199.8 500.7L199.9 514.0L200.0 527.5L200.1 541.4L200.3 555.6L200.4 570.1L200.5 585.1L200.6 600.4L200.7 616.5L200.8 633.6L201.0 651.6L201.1 670.2L201.2 689.4L201.3 708.9L201.4 728.7L201.5 748.4L201.7 768.1L201.8 787.5L201.9 806.5L202.0 824.9L202.1 842.5L202.2 860.6L202.3 879.4L202.5 898.3L202.6 916.9L202.7 934.5L202.8 950.6L202.9 964.6L203.0 976.0L203.2 984.5L203.3 992.1L203.4 999.0L203.5 1005.4L203.6 1011.2L203.7 1016.6L203.9 1021.6L204.0 1026.3L204.1 1030.8L204.2 1035.2L204.3 1039.4L204.4 1043.6L204.6 1047.8L204.7 1052.2L204.8 1056.6L204.9 1061.0L205.0 1065.4L205.1 1069.7L205.3 1073.8L205.4 1077.9L205.5 1081.9L205.6 1085.8L205.7 1089.6L205.8 1093.2L206.0 1096.7L206.1 1100.1L206.2 1103.2L206.3 1106.2L206.4 1109.2L206.5 1112.3L206.7 1115.5L206.8 1118.7L206.9 1121.8L207.0 1124.8L207.1 1127.7L207.2 1130.3L207.4 1132.6L207.5 1134.6L207.6 1136.2L207.7 1137.4L207.8 1138.1L207.9 1138.2L208.1 1138.1L208.2 1137.8L208.3 1137.3L208.4 1136.7L208.5 1136.0L208.6 1135.2L208.8 1134.3L208.9 1133.3L209.0 1132.2L209.1 1131.1L209.2 1129.9L209.3 1128.7L209.5 1127.4L209.6 1125.6L209.7 1123.3L209.8 1120.6L209.9 1117.6L210.0 1114.2L210.2 1110.7L210.3 1107.0L210.4 1103.2L210.5 1099.5L210.6 1095.8L210.7 1092.2L210.8 1088.9L211.0 1085.8L211.1 1083.1L211.2 1080.4L211.3 1077.9L211.4 1075.5L211.5 1073.1L211.7 1070.9L211.8 1068.6L211.9 1066.4L212.0 1064.1L212.1 1061.9L212.2 1059.6L212.4 1057.3L212.5 1054.9L212.6 1052.4L212.7 1049.7L212.8 1047.0L212.9 1044.1L213.1 1041.0L213.2 1037.7L213.3 1033.9L213.4 1029.8L213.5 1025.3L213.6 1020.6L213.8 1015.7L213.9 1010.7L214.0 1005.8L214.1 1000.9L214.2 996.1L214.3 991.6L214.5 987.4L214.6 983.6L214.7 980.2L214.8 977.2L214.9 974.2L215.0 971.2L215.2 968.3L215.3 965.6L215.4 962.8L215.5 960.2L215.6 957.7L215.7 955.2L215.9 952.8L216.0 950.6L216.1 948.4L216.2 946.4L216.3 944.5L216.4 942.7L216.6 941.1L216.7 939.5L216.8 938.1L216.9 936.8L217.0 935.6L217.1 934.3L217.3 933.1L217.4 932.0L217.5 930.9L217.6 929.8L217.7 928.9L217.8 927.9L218.0 927.1L218.1 926.4L218.2 925.7L218.3 925.2L218.4 924.7L218.5 924.4L218.7 924.1L218.8 923.9L218.9 923.7L219.0 923.5L219.1 923.3L219.2 923.1L219.3 923.0L219.5 922.8L219.6 922.7L219.7 922.5L219.8 922.4L219.9 922.2L220.0 922.0L220.2 921.8L220.3 921.6L220.4 921.4L220.5 921.2L220.6 921.0L220.7 920.9L220.9 920.7L221.0 920.6L221.1 920.4L221.2 920.4L221.3 920.3L221.4 920.3L221.6 920.4L221.7 920.5L221.8 920.6L221.9 920.8L222.0 921.1L222.1 921.4L222.3 921.7L222.4 922.0L222.5 922.4L222.6 922.8L222.7 923.2L222.8 923.7L223.0 924.1L223.1 924.6L223.2 925.0L223.3 925.5L223.4 926.0L223.5 926.4L223.7 927.0L223.8 927.6L223.9 928.3L224.0 929.1L224.1 929.8L224.2 930.7L224.4 931.5L224.5 932.4L224.6 933.3L224.7 934.3L224.8 935.3L224.9 936.2L225.1 937.2L225.2 938.2L225.3 939.2L225.4 940.2L225.5 941.2L225.6 942.1L225.8 943.1L226.5 948.5L227.2 953.8L227.9 959.1L228.7 964.2L229.4 969.0L230.1 974.0L230.8 978.3L231.6 981.1L232.3 983.4L233.0 985.4L233.8 987.0L234.5 988.0L235.2 988.2L235.9 987.7L236.7 986.5L237.4 984.9L238.1 983.0L238.9 981.0L239.6 978.9L240.3 976.3L241.0 973.2L241.8 969.7L242.5 965.8L243.2 961.7L243.9 957.4L244.7 952.8L245.4 947.7L246.1 942.0L246.9 935.7L247.6 928.8L248.3 921.0L249.0 911.3L249.8 902.4L250.5 895.8L251.2 890.0L252.0 885.3L252.7 881.6L253.4 878.1L254.1 875.5L254.9 874.4L255.6 874.8L256.3 875.7L257.0 877.0L257.8 878.3L258.5 879.6L259.2 880.7L260.0 882.0L260.7 883.3L261.4 884.2L262.1 884.6L262.9 884.0L263.6 882.5L264.3 880.3L265.1 877.9L265.8 875.0L266.5 871.1L267.2 866.5L268.0 861.3L268.7 855.8L269.4 848.9L270.1 840.8L270.9 832.6L271.6 825.4L272.3 819.7L273.1 814.4L273.8 809.6L274.5 805.3L275.2 801.5L276.0 797.8L276.7 794.5L277.4 791.6L278.2 789.6L278.9 788.0L279.6 786.6L280.3 785.7L281.1 785.3L281.8 785.6L282.5 786.6L283.2 787.9L284.0 789.5L284.7 791.1L285.4 792.9L286.2 795.0L286.9 797.5L287.6 800.3L288.3 803.3L289.1 806.4L289.8 809.7L290.5 813.5L291.3 817.6L292.0 821.9L292.7 826.4L293.4 831.1L294.2 835.9L294.9 841.1L295.6 846.4L296.3 851.7L297.1 856.8L297.8 862.1L298.5 867.3L299.3 872.1L300.0 876.0L300.7 879.3L301.4 882.4L302.2 885.0L302.9 887.0L303.6 888.4L304.4 889.6L305.1 890.4L305.8 890.5L306.5 889.8L307.3 888.6L308.0 887.2L308.7 885.7L309.4 883.9L310.2 881.7L310.9 879.3L311.6 876.7L312.4 874.3L313.1 872.3L313.8 870.5L314.5 868.8L315.3 867.1L316.0 865.6L316.7 864.1L317.5 862.7L318.2 861.4L318.9 860.3L319.6 859.1L320.4 857.9L321.1 856.9L321.8 856.0L322.5 855.4L323.3 855.1L324.0 854.8L324.7 854.5L325.5 854.3L326.2 854.3L326.9 854.3L327.6 854.5L328.4 854.8L329.1 855.1L329.8 855.5L330.6 855.9L331.3 856.3L332.0 856.9L332.7 857.5L333.5 858.2L334.2 859.0L334.9 859.8L335.6 860.6L336.4 861.4L337.1 862.4L337.8 863.4L338.6 864.5L339.3 865.5L340.0 866.6L340.7 867.5L341.5 868.4L342.2 869.3L342.9 870.1L343.6 870.9L344.4 871.6L345.1 872.2L345.8 872.6L346.6 872.9L347.3 873.3L348.0 873.5L348.7 873.7L349.5 873.7L350.2 873.7L350.9 873.6L351.7 873.3L352.4 873.1L353.1 872.8L353.8 872.5L354.6 872.2L355.3 871.8L356.0 871.4L356.7 870.9L357.5 870.4L358.2 869.8L358.9 869.3L359.7 868.9L360.4 868.5L361.1 868.3L361.8 868.1L362.6 867.8L363.3 867.7L364.0 867.5L364.8 867.4L365.5 867.4L366.2 867.5L366.9 867.6L367.7 867.8L368.4 868.0L369.1 868.2L369.8 868.4L370.6 868.7L371.3 868.9L372.0 869.1L372.8 869.3L373.5 869.5L374.2 869.7L374.9 869.9L375.7 870.1L376.4 870.3L377.1 870.5L377.9 870.7L378.6 870.9L379.3 871.0L380.0 871.1L380.8 871.3L381.5 871.4L382.2 871.5L382.9 871.5L383.7 871.6L384.4 871.7L385.1 871.8L385.9 871.9L386.6 871.9L387.3 872.0L388.0 872.0L388.8 872.0L389.5 872.0L390.2 872.0L391.0 872.0L391.7 872.0L392.4 872.0L393.1 871.9L393.9 871.9L394.6 871.9L395.3 871.9L396.0 871.9L396.8 871.8L397.5 871.8L398.2 871.8L399.0 871.8L399.7 871.8L400.4 871.8L401.1 871.7L401.9 871.7L402.6 871.7L403.3 871.7L404.1 871.7L404.8 871.7L405.5 871.7L406.2 871.7L407.0 871.7L407.7 871.7L408.4 871.7L409.1 871.7L409.9 871.7L410.6 871.7L411.3 871.7L412.1 871.7L412.8 871.7L413.5 871.7L414.2 871.7L415.0 871.7L415.7 871.7L416.4 871.7L417.2 871.7L417.9 871.7L418.6 871.7L419.3 871.7L420.1 871.7L420.8 871.7L421.5 871.7L422.2 871.7L423.0 871.7L423.7 871.7L424.4 871.7L425.2 871.7L425.9 871.7L426.6 871.7L427.3 871.7L428.1 871.7L428.8 871.7L429.5 871.7L430.3 871.7L431.0 871.7L431.7 871.7L432.4 871.7L433.2 871.7L433.9 871.7L434.6 871.7L435.3 871.7L436.1 871.7L436.8 871.7L437.5 871.7L438.3 871.7L439.0 871.7L439.7 871.7L440.4 871.7L441.2 871.7L441.9 871.7L442.6 871.7L443.4 871.7L444.1 871.7L444.8 871.7L445.5 871.7L446.3 871.7L447.0 871.7L447.7 871.7L448.4 871.7L449.2 871.7L449.9 871.7L450.6 871.7L451.4 871.7L452.1 871.7L452.8 871.7L453.5 871.7L454.3 871.7L455.0 871.7L455.7 871.7L456.5 871.7L457.2 871.7L457.9 871.7L458.6 871.7L459.4 871.7L460.1 871.7L460.8 871.7L461.5 871.7L462.3 871.7L463.0 871.7L463.7 871.7L464.5 871.7L465.2 871.7L465.9 871.7L466.6 871.7L467.4 871.7L468.1 871.7L468.8 871.7L469.6 871.7L470.3 871.7L471.0 871.7L471.7 871.7L472.5 871.7L473.2 871.7L473.9 871.7L474.6 871.7L475.4 871.7L476.1 871.7L476.8 871.7L477.6 871.7L478.3 871.7L479.0 871.7L479.7 871.7L480.5 871.7L481.2 871.7L481.9 871.7L482.6 871.7L483.4 871.7L484.1 871.7L484.8 871.7L485.6 871.7L486.3 871.7L487.0 871.7L487.7 871.7L488.5 871.7L489.2 871.7L489.9 871.7L490.7 871.7L491.4 871.7L492.1 871.7L492.8 871.7L493.6 871.7L494.3 871.7L495.0 871.7L495.7 871.7L496.5 871.7L497.2 871.7L497.9 871.7L498.7 871.7L499.4 871.7L500.1 871.7L500.8 871.7L501.6 871.7L502.3 871.7L503.0 871.7L503.8 871.7L504.5 871.7L505.2 871.7L505.9 871.7L506.7 871.7L507.4 871.7L508.1 871.7L508.8 871.7L509.6 871.7L510.3 871.7L511.0 871.7L511.8 871.7L512.5 871.7L513.2 871.7L513.9 871.7L514.7 871.7L515.4 871.7L516.1 871.7L516.9 871.7L517.6 871.7L518.3 871.7L519.0 871.7L519.8 871.7L520.5 871.7L521.2 871.7L521.9 871.7L522.7 871.7L523.4 871.7L524.1 871.7L524.9 871.7L525.6 871.7L526.3 871.7L527.0 871.7L527.8 871.7L528.5 871.7L529.2 871.7L530.0 871.7L530.7 871.7L531.4 871.7L532.1 871.7L532.9 871.7L533.6 871.7L534.3 871.7L535.0 871.7L535.8 871.7L536.5 871.7L537.2 871.7L538.0 871.7L538.7 871.7L539.4 871.7L540.1 871.7L540.9 871.7L541.6 871.7L542.3 871.7L543.1 871.7L543.8 871.7L544.5 871.7L545.2 871.7L546.0 871.7L546.7 871.7L547.4 871.7L548.1 871.7L548.9 871.7L549.6 871.7L550.3 871.7L551.1 871.7L551.8 871.7L552.5 871.7L553.2 871.7L554.0 871.7L554.7 871.7L555.4 871.7L556.2 871.7L556.9 871.7L557.6 871.7L558.3 871.7L559.1 871.7L559.8 871.7L560.5 871.7L561.2 871.7L562.0 871.7L562.7 871.7L563.4 871.7L566.3 871.7L569.3 871.7L572.2 871.7L575.1 871.7L578.0 871.7L580.9 871.7L583.8 871.7L586.7 871.7L589.6 871.7L592.5 871.7L595.5 871.7L598.4 871.7L601.3 871.7L604.2 871.7L607.1 871.7L610.0 871.7L612.9 871.7L615.8 871.7L618.7 871.7L621.6 871.7L624.6 871.7L627.5 871.7L630.4 871.7L633.3 871.7L636.2 871.7L639.1 871.7L642.0 871.7L644.9 871.7L647.8 871.7L650.8 871.7L653.7 871.7L656.6 871.7L659.5 871.7L662.4 871.7L665.3 871.7L668.2 871.7L671.1 871.7L674.0 871.7L677.0 871.7L679.9 871.7L682.8 871.7L685.7 871.7L688.6 871.7L691.5 871.7L694.4 871.7L697.3 871.7L700.2 871.7L703.2 871.7L706.1 871.7L709.0 871.7L711.9 871.7L714.8 871.7L717.7 871.7L720.6 871.7L723.5 871.7L726.4 871.7L729.4 871.7L732.3 871.7L735.2 871.7L738.1 871.7L741.0 871.7L743.9 871.7L746.8 871.7L749.7 871.7L752.6 871.7L755.6 871.7L758.5 871.7L761.4 871.7L764.3 871.7L767.2 871.7L770.1 871.7L773.0 871.7L775.9 871.7L778.8 871.7L781.8 871.7L784.7 871.7L787.6 871.7L790.5 871.7L793.4 871.7L796.3 871.7L799.2 871.7L802.1 871.7L805.0 871.7L808.0 871.7L810.9 871.7L813.8 871.7L816.7 871.7L819.6 871.7L822.5 871.7L825.4 871.7L828.3 871.7L831.2 871.7L834.2 871.7L837.1 871.7L840.0 871.7L842.9 871.7L845.8 871.7L848.7 871.7L851.6 871.7L854.5 871.7L857.4 871.7L860.4 871.7L863.3 871.7L866.2 871.7L869.1 871.7L872.0 871.7L874.9 871.7L877.8 871.7L880.7 871.7L883.6 871.7L886.6 871.7L889.5 871.7L892.4 871.7L895.3 871.7L898.2 871.7L901.1 871.7L904.0 871.7L906.9 871.7L909.8 871.7L912.8 871.7L915.7 871.7L918.6 871.7L921.5 871.7L924.4 871.7L927.3 871.7L930.2 871.7L933.1 871.7L936.0 871.7L938.9 871.7L941.9 871.7L944.8 871.7L947.7 871.7L950.6 871.7L953.5 871.7L956.4 871.7L959.3 871.7L962.2 871.7L965.1 871.7L968.1 871.7L971.0 871.7L973.9 871.7L976.8 871.7L979.7 871.7L982.6 871.7L985.5 871.7L988.4 871.7L991.3 871.7L994.3 871.7L997.2 871.7L1000.1 871.7L1003.0 871.7L1005.9 871.7L1008.8 871.7L1011.7 871.7L1014.6 871.7L1017.5 871.7L1020.5 871.7L1023.4 871.7L1026.3 871.7L1029.2 871.7L1032.1 871.7L1035.0 871.7L1037.9 871.7L1040.8 871.7L1043.7 871.7L1046.7 871.7L1049.6 871.7L1052.5 871.7L1055.4 871.7L1058.3 871.7L1061.2 871.7L1064.1 871.7L1067.0 871.7L1069.9 871.7L1072.9 871.7L1075.8 871.7L1078.7 871.7L1081.6 871.7L1084.5 871.7L1087.4 871.7L1090.3 871.7L1093.2 871.7L1096.1 871.7L1099.1 871.7L1102.0 871.7L1104.9 871.7L1107.8 871.7L1110.7 871.7L1113.6 871.7L1116.5 871.7L1119.4 871.7L1122.3 871.7L1125.3 871.7L1128.2 871.7L1131.1 871.7L1134.0 871.7L1136.9 871.7L1139.8 871.7L1142.7 871.7L1145.6 871.7L1148.5 871.7L1151.5 871.7L1154.4 871.7L1157.3 871.7L1160.2 871.7L1163.1 871.7L1166.0 871.7L1168.9 871.7L1171.8 871.7L1174.7 871.7L1177.7 871.7L1180.6 871.7L1183.5 871.7L1186.4 871.7L1189.3 871.7L1192.2 871.7L1195.1 871.7L1198.0 871.7L1200.9 871.7L1203.8 871.7L1206.8 871.7L1209.7 871.7L1212.6 871.7L1215.5 871.7L1218.4 871.7L1221.3 871.7L1224.2 871.7L1227.1 871.7L1230.0 871.7L1233.0 871.7L1235.9 871.7L1238.8 871.7L1241.7 871.7L1244.6 871.7L1247.5 871.7L1250.4 871.7L1253.3 871.7L1256.2 871.7L1259.2 871.7L1262.1 871.7L1265.0 871.7L1267.9 871.7L1270.8 871.7L1273.7 871.7L1276.6 871.7L1279.5 871.7L1282.4 871.7L1285.4 871.7L1288.3 871.7L1291.2 871.7L1294.1 871.7L1297.0 871.7L1299.9 871.7L1302.8 871.7L1305.7 871.7L1308.6 871.7L1311.6 871.7L1314.5 871.7L1317.4 871.7L1320.3 871.7L1323.2 871.7L1326.1 871.7L1329.0 871.7L1331.9 871.7L1334.8 871.7L1337.8 871.7L1340.7 871.7L1343.6 871.7L1346.5 871.7L1349.4 871.7L1352.3 871.7L1355.2 871.7L1358.1 871.7L1361.0 871.7L1364.0 871.7L1366.9 871.7L1369.8 871.7L1372.7 871.7L1375.6 871.7L1378.5 871.7L1381.4 871.7L1384.3 871.7L1387.2 871.7L1390.2 871.7L1393.1 871.7L1396.0 871.7L1398.9 871.7L1401.8 871.7L1404.7 871.7L1407.6 871.7L1410.5 871.7L1413.4 871.7L1416.4 871.7L1419.3 871.7L1422.2 871.7L1425.1 871.7L1428.0 871.7L1430.9 871.7L1433.8 871.7L1436.7 871.7L1439.6 871.7L1442.6 871.7L1445.5 871.7L1448.4 871.7L1451.3 871.7L1454.2 871.7L1457.1 871.7L1460.0 871.7L1462.9 871.7L1465.8 871.7L1468.8 871.7L1471.7 871.7L1474.6 871.7L1477.5 871.7L1480.4 871.7L1483.3 871.7L1486.2 871.7L1489.1 871.7L1492.0 871.7L1495.0 871.7L1497.9 871.7L1500.8 871.7L1503.7 871.7L1506.6 871.7L1509.5 871.7L1512.4 871.7L1515.3 871.7L1518.2 871.7L1521.1 871.7L1524.1 871.7L1527.0 871.7L1529.9 871.7L1532.8 871.7L1535.7 871.7L1538.6 871.7L1541.5 871.7L1544.4 871.7L1547.3 871.7L1550.3 871.7L1553.2 871.7L1556.1 871.7L1559.0 871.7L1561.9 871.7L1564.8 871.7L1567.7 871.7L1570.6 871.7L1573.5 871.7L1576.5 871.7L1579.4 871.7L1582.3 871.7L1585.2 871.7L1588.1 871.7L1591.0 871.7L1593.9 871.7L1596.8 871.7L1599.7 871.7L1602.7 871.7L1605.6 871.7L1608.5 871.7L1611.4 871.7L1614.3 871.7L1617.2 871.7L1620.1 871.7L1623.0 871.7L1625.9 871.7L1628.9 871.7L1631.8 871.7L1634.7 871.7L1637.6 871.7L1640.5 871.7H1642"/>
<path stroke="#7f00ff" d="M185.0 872.7L185.1 872.8L185.2 872.9L185.3 873.2L185.5 873.5L185.6 873.9L185.7 874.4L185.8 875.0L185.9 875.6L186.0 876.3L186.2 877.1L186.3 877.9L186.4 879.0L186.5 881.2L186.6 884.2L186.7 888.0L186.9 892.5L187.0 897.5L187.1 903.0L187.2 908.9L187.3 915.1L187.4 921.4L187.6 927.8L187.7 934.2L187.8 940.5L187.9 946.6L188.0 952.3L188.1 957.6L188.3 962.5L188.4 967.7L188.5 973.3L188.6 979.0L188.7 985.0L188.8 991.0L189.0 997.2L189.1 1003.3L189.2 1009.4L189.3 1015.3L189.4 1021.1L189.5 1026.6L189.7 1031.9L189.8 1036.7L189.9 1041.1L190.0 1045.0L190.1 1048.4L190.2 1051.1L190.4 1053.2L190.5 1054.5L190.6 1055.0L190.7 1054.5L190.8 1052.7L190.9 1049.7L191.1 1045.8L191.2 1040.9L191.3 1035.3L191.4 1029.0L191.5 1022.2L191.6 1014.9L191.8 1007.4L191.9 999.7L192.0 991.9L192.1 984.2L192.2 976.6L192.3 969.4L192.5 962.6L192.6 956.3L192.7 950.7L192.8 945.3L192.9 939.5L193.0 933.5L193.2 927.3L193.3 921.1L193.4 915.0L193.5 909.3L193.6 904.0L193.7 899.4L193.8 895.5L194.0 892.6L194.1 890.7L194.2 890.0L194.3 890.4L194.4 891.5L194.5 893.3L194.7 895.6L194.8 898.4L194.9 901.6L195.0 905.0L195.1 908.7L195.2 912.4L195.4 916.1L195.5 919.8L195.6 923.2L195.7 926.4L195.8 929.2L195.9 931.6L196.1 933.4L196.2 934.6L196.3 935.0L196.4 934.9L196.5 934.6L196.6 934.0L196.8 933.3L196.9 932.3L197.0 931.2L197.1 930.0L197.2 928.6L197.3 927.1L197.5 925.4L197.6 923.7L197.7 921.9L197.8 920.0L197.9 918.0L198.0 916.1L198.2 914.0L198.3 912.0L198.4 910.0L198.5 908.0L198.6 906.0L198.7 904.1L198.9 902.2L199.0 900.4L199.1 898.6L199.2 896.7L199.3 894.7L199.4 892.6L199.6 890.4L199.7 888.3L199.8 886.2L199.9 884.1L200.0 882.1L200.1 880.3L200.3 878.6L200.4 877.1L200.5 875.5L200.6 873.9L200.7 872.2L200.8 870.6L201.0 869.1L201.1 867.7L201.2 866.4L201.3 865.3L201.4 864.4L201.5 863.8L201.7 863.5L201.8 863.5L201.9 863.6L202.0 863.8L202.1 864.0L202.2 864.3L202.3 864.6L202.5 865.0L202.6 865.4L202.7 865.8L202.8 866.3L202.9 866.7L203.0 867.1L203.2 867.6L203.3 867.9L203.4 868.3L203.5 868.8L203.6 869.3L203.7 869.8L203.9 870.4L204.0 870.9L204.1 871.4L204.2 871.8L204.3 872.1L204.4 872.4L204.6 872.5L204.7 872.4L204.8 871.8L204.9 870.7L205.0 869.4L205.1 867.9L205.3 866.3L205.4 864.7L205.5 863.2L205.6 861.9L205.7 860.7L205.8 859.4L206.0 858.0L206.1 856.7L206.2 855.5L206.3 854.4L206.4 853.4L206.5 852.7L206.7 852.3L206.8 851.9L206.9 851.6L207.0 851.2L207.1 850.9L207.2 850.6L207.4 850.4L207.5 850.1L207.6 849.9L207.7 849.7L207.8 849.5L207.9 849.3L208.1 849.1L208.2 848.9L208.3 848.8L208.4 848.7L208.5 848.5L208.6 848.4L208.8 848.3L208.9 848.2L209.0 848.2L209.1 848.1L209.2 848.0L209.3 847.9L209.5 847.8L209.6 847.7L209.7 847.7L209.8 847.6L209.9 847.5L210.0 847.4L210.2 847.4L210.3 847.3L210.4 847.2L210.5 847.2L210.6 847.1L210.7 847.1L210.8 847.0L211.0 847.0L211.1 847.0L211.2 846.9L211.3 846.9L211.4 846.9L211.5 846.8L211.7 846.8L211.8 846.8L211.9 846.8L212.0 846.8L212.1 846.8L212.2 846.8L212.4 846.8L212.5 846.8L212.6 846.8L212.7 846.8L212.8 846.8L212.9 846.8L213.1 846.9L213.2 846.9L213.3 846.9L213.4 846.9L213.5 846.9L213.6 846.9L213.8 846.9L213.9 847.0L214.0 847.0L214.1 847.0L214.2 847.0L214.3 847.0L214.5 847.0L214.6 847.1L214.7 847.1L214.8 847.1L214.9 847.1L215.0 847.2L215.2 847.2L215.3 847.2L215.4 847.2L215.5 847.3L215.6 847.3L215.7 847.3L215.9 847.3L216.0 847.4L216.1 847.4L216.2 847.5L216.3 847.5L216.4 847.6L216.6 847.7L216.7 847.8L216.8 847.8L216.9 847.9L217.0 848.0L217.1 848.1L217.3 848.2L217.4 848.3L217.5 848.4L217.6 848.5L217.7 848.6L217.8 848.7L218.0 848.8L218.1 848.9L218.2 849.0L218.3 849.1L218.4 849.2L218.5 849.3L218.7 849.4L218.8 849.5L218.9 849.5L219.0 849.6L219.1 849.7L219.2 849.8L219.3 849.9L219.5 849.9L219.6 850.0L219.7 850.0L219.8 850.1L219.9 850.1L220.0 850.2L220.2 850.2L220.3 850.2L220.4 850.3L220.5 850.3L220.6 850.3L220.7 850.4L220.9 850.4L221.0 850.4L221.1 850.5L221.2 850.5L221.3 850.5L221.4 850.6L221.6 850.6L221.7 850.6L221.8 850.7L221.9 850.7L222.0 850.7L222.1 850.8L222.3 850.8L222.4 850.8L222.5 850.8L222.6 850.9L222.7 850.9L222.8 850.9L223.0 851.0L223.1 851.0L223.2 851.0L223.3 851.0L223.4 851.1L223.5 851.1L223.7 851.1L223.8 851.1L223.9 851.2L224.0 851.2L224.1 851.2L224.2 851.2L224.4 851.3L224.5 851.3L224.6 851.3L224.7 851.3L224.8 851.3L224.9 851.4L225.1 851.4L225.2 851.4L225.3 851.4L225.4 851.4L225.5 851.4L225.6 851.5L225.8 851.5L226.5 851.5L227.2 851.6L227.9 851.6L228.7 851.6L229.4 851.5L230.1 851.4L230.8 851.2L231.6 851.0L232.3 850.9L233.0 850.7L233.8 850.5L234.5 850.3L235.2 850.0L235.9 849.7L236.7 849.3L237.4 848.9L238.1 848.5L238.9 848.1L239.6 847.7L240.3 847.3L241.0 846.9L241.8 846.5L242.5 846.2L243.2 845.8L243.9 845.4L244.7 845.0L245.4 844.6L246.1 844.2L246.9 843.9L247.6 843.5L248.3 843.2L249.0 842.8L249.8 842.5L250.5 842.2L251.2 842.0L252.0 841.7L252.7 841.4L253.4 841.2L254.1 840.9L254.9 840.7L255.6 840.5L256.3 840.3L257.0 840.1L257.8 840.0L258.5 839.9L259.2 839.8L260.0 839.8L260.7 839.7L261.4 839.6L262.1 839.5L262.9 839.2L263.6 839.0L264.3 838.8L265.1 838.7L265.8 838.7L266.5 838.8L267.2 838.9L268.0 839.0L268.7 839.1L269.4 839.2L270.1 839.4L270.9 839.6L271.6 839.8L272.3 840.0L273.1 840.2L273.8 840.5L274.5 840.8L275.2 841.0L276.0 841.3L276.7 841.6L277.4 841.9L278.2 842.2L278.9 842.5L279.6 842.8L280.3 843.1L281.1 843.5L281.8 843.8L282.5 844.2L283.2 844.5L284.0 844.9L284.7 845.2L285.4 845.6L286.2 845.9L286.9 846.2L287.6 846.5L288.3 846.8L289.1 847.1L289.8 847.4L290.5 847.7L291.3 848.0L292.0 848.2L292.7 848.5L293.4 848.8L294.2 849.1L294.9 849.4L295.6 849.7L296.3 850.0L297.1 850.4L297.8 850.8L298.5 851.2L299.3 851.6L300.0 852.0L300.7 852.5L301.4 852.9L302.2 853.4L302.9 853.8L303.6 854.3L304.4 854.7L305.1 855.2L305.8 855.6L306.5 856.0L307.3 856.3L308.0 856.7L308.7 857.1L309.4 857.5L310.2 857.8L310.9 858.2L311.6 858.5L312.4 858.9L313.1 859.2L313.8 859.6L314.5 859.9L315.3 860.3L316.0 860.6L316.7 860.9L317.5 861.3L318.2 861.6L318.9 861.9L319.6 862.3L320.4 862.6L321.1 863.0L321.8 863.3L322.5 863.6L323.3 863.9L324.0 864.2L324.7 864.5L325.5 864.8L326.2 865.0L326.9 865.3L327.6 865.5L328.4 865.7L329.1 865.9L329.8 866.2L330.6 866.4L331.3 866.6L332.0 866.8L332.7 866.9L333.5 867.1L334.2 867.3L334.9 867.5L335.6 867.7L336.4 867.8L337.1 868.0L337.8 868.2L338.6 868.4L339.3 868.5L340.0 868.7L340.7 868.9L341.5 869.0L342.2 869.2L342.9 869.3L343.6 869.4L344.4 869.6L345.1 869.7L345.8 869.7L346.6 869.8L347.3 869.9L348.0 869.9L348.7 870.0L349.5 870.1L350.2 870.1L350.9 870.2L351.7 870.2L352.4 870.3L353.1 870.3L353.8 870.3L354.6 870.4L355.3 870.4L356.0 870.4L356.7 870.4L357.5 870.4L358.2 870.3L358.9 870.3L359.7 870.3L360.4 870.2L361.1 870.2L361.8 870.1L362.6 870.1L363.3 870.0L364.0 869.9L364.8 869.9L365.5 869.8L366.2 869.8L366.9 869.7L367.7 869.7L368.4 869.7L369.1 869.6L369.8 869.6L370.6 869.6L371.3 869.5L372.0 869.5L372.8 869.5L373.5 869.4L374.2 869.4L374.9 869.4L375.7 869.4L376.4 869.3L377.1 869.3L377.9 869.3L378.6 869.3L379.3 869.3L380.0 869.3L380.8 869.3L381.5 869.2L382.2 869.2L382.9 869.2L383.7 869.2L384.4 869.2L385.1 869.2L385.9 869.2L386.6 869.2L387.3 869.2L388.0 869.2L388.8 869.2L389.5 869.2L390.2 869.2L391.0 869.2L391.7 869.2L392.4 869.2L393.1 869.2L393.9 869.2L394.6 869.2L395.3 869.2L396.0 869.2L396.8 869.2L397.5 869.2L398.2 869.2L399.0 869.2L399.7 869.2L400.4 869.2L401.1 869.2L401.9 869.2L402.6 869.2L403.3 869.2L404.1 869.2L404.8 869.2L405.5 869.2L406.2 869.2L407.0 869.2L407.7 869.2L408.4 869.2L409.1 869.2L409.9 869.2L410.6 869.2L411.3 869.2L412.1 869.2L412.8 869.2L413.5 869.2L414.2 869.2L415.0 869.1L415.7 869.1L416.4 869.1L417.2 869.1L417.9 869.1L418.6 869.1L419.3 869.1L420.1 869.1L420.8 869.1L421.5 869.1L422.2 869.1L423.0 869.1L423.7 869.1L424.4 869.1L425.2 869.1L425.9 869.1L426.6 869.1L427.3 869.1L428.1 869.1L428.8 869.1L429.5 869.1L430.3 869.1L431.0 869.1L431.7 869.1L432.4 869.1L433.2 869.1L433.9 869.1L434.6 869.1L435.3 869.1L436.1 869.1L436.8 869.1L437.5 869.1L438.3 869.1L439.0 869.1L439.7 869.1L440.4 869.1L441.2 869.1L441.9 869.1L442.6 869.1L443.4 869.1L444.1 869.1L444.8 869.1L445.5 869.1L446.3 869.1L447.0 869.1L447.7 869.1L448.4 869.1L449.2 869.1L449.9 869.1L450.6 869.1L451.4 869.1L452.1 869.1L452.8 869.1L453.5 869.1L454.3 869.1L455.0 869.1L455.7 869.1L456.5 869.1L457.2 869.1L457.9 869.1L458.6 869.1L459.4 869.1L460.1 869.1L460.8 869.1L461.5 869.1L462.3 869.1L463.0 869.1L463.7 869.1L464.5 869.1L465.2 869.1L465.9 869.1L466.6 869.1L467.4 869.1L468.1 869.1L468.8 869.1L469.6 869.1L470.3 869.1L471.0 869.1L471.7 869.1L472.5 869.1L473.2 869.1L473.9 869.1L474.6 869.1L475.4 869.1L476.1 869.1L476.8 869.1L477.6 869.1L478.3 869.1L479.0 869.1L479.7 869.1L480.5 869.1L481.2 869.1L481.9 869.1L482.6 869.1L483.4 869.1L484.1 869.1L484.8 869.1L485.6 869.1L486.3 869.1L487.0 869.1L487.7 869.1L488.5 869.1L489.2 869.1L489.9 869.1L490.7 869.1L491.4 869.1L492.1 869.1L492.8 869.1L493.6 869.1L494.3 869.1L495.0 869.1L495.7 869.1L496.5 869.1L497.2 869.1L497.9 869.1L498.7 869.1L499.4 869.1L500.1 869.1L500.8 869.1L501.6 869.1L502.3 869.1L503.0 869.1L503.8 869.1L504.5 869.1L505.2 869.1L505.9 869.1L506.7 869.1L507.4 869.1L508.1 869.1L508.8 869.1L509.6 869.1L510.3 869.1L511.0 869.1L511.8 869.1L512.5 869.1L513.2 869.1L513.9 869.1L514.7 869.1L515.4 869.1L516.1 869.1L516.9 869.1L517.6 869.1L518.3 869.1L519.0 869.1L519.8 869.1L520.5 869.1L521.2 869.1L521.9 869.1L522.7 869.1L523.4 869.1L524.1 869.1L524.9 869.1L525.6 869.1L526.3 869.1L527.0 869.1L527.8 869.1L528.5 869.1L529.2 869.1L530.0 869.1L530.7 869.1L531.4 869.1L532.1 869.1L532.9 869.1L533.6 869.1L534.3 869.1L535.0 869.1L535.8 869.1L536.5 869.1L537.2 869.1L538.0 869.1L538.7 869.1L539.4 869.1L540.1 869.1L540.9 869.1L541.6 869.1L542.3 869.1L543.1 869.1L543.8 869.1L544.5 869.1L545.2 869.1L546.0 869.1L546.7 869.1L547.4 869.1L548.1 869.1L548.9 869.1L549.6 869.1L550.3 869.1L551.1 869.1L551.8 869.1L552.5 869.1L553.2 869.1L554.0 869.1L554.7 869.1L555.4 869.1L556.2 869.1L556.9 869.1L557.6 869.1L558.3 869.1L559.1 869.1L559.8 869.1L560.5 869.1L561.2 869.1L562.0 869.1L562.7 869.1L563.4 869.1L566.3 869.1L569.3 869.1L572.2 869.1L575.1 869.1L578.0 869.1L580.9 869.1L583.8 869.1L586.7 869.1L589.6 869.1L592.5 869.1L595.5 869.1L598.4 869.1L601.3 869.1L604.2 869.1L607.1 869.1L610.0 869.1L612.9 869.1L615.8 869.1L618.7 869.1L621.6 869.1L624.6 869.1L627.5 869.1L630.4 869.1L633.3 869.1L636.2 869.1L639.1 869.1L642.0 869.1L644.9 869.1L647.8 869.1L650.8 869.1L653.7 869.1L656.6 869.1L659.5 869.1L662.4 869.1L665.3 869.1L668.2 869.1L671.1 869.1L674.0 869.1L677.0 869.1L679.9 869.1L682.8 869.1L685.7 869.1L688.6 869.1L691.5 869.1L694.4 869.1L697.3 869.1L700.2 869.1L703.2 869.1L706.1 869.1L709.0 869.1L711.9 869.1L714.8 869.1L717.7 869.1L720.6 869.1L723.5 869.1L726.4 869.1L729.4 869.1L732.3 869.1L735.2 869.1L738.1 869.1L741.0 869.1L743.9 869.1L746.8 869.1L749.7 869.1L752.6 869.1L755.6 869.1L758.5 869.1L761.4 869.1L764.3 869.1L767.2 869.1L770.1 869.1L773.0 869.1L775.9 869.1L778.8 869.1L781.8 869.1L784.7 869.1L787.6 869.1L790.5 869.1L793.4 869.1L796.3 869.1L799.2 869.1L802.1 869.1L805.0 869.1L808.0 869.1L810.9 869.1L813.8 869.1L816.7 869.1L819.6 869.1L822.5 869.1L825.4 869.1L828.3 869.1L831.2 869.1L834.2 869.1L837.1 869.1L840.0 869.1L842.9 869.1L845.8 869.1L848.7 869.1L851.6 869.1L854.5 869.1L857.4 869.1L860.4 869.1L863.3 869.1L866.2 869.1L869.1 869.1L872.0 869.1L874.9 869.1L877.8 869.1L880.7 869.1L883.6 869.1L886.6 869.1L889.5 869.1L892.4 869.1L895.3 869.1L898.2 869.1L901.1 869.1L904.0 869.1L906.9 869.1L909.8 869.1L912.8 869.1L915.7 869.1L918.6 869.1L921.5 869.1L924.4 869.1L927.3 869.1L930.2 869.1L933.1 869.1L936.0 869.1L938.9 869.1L941.9 869.1L944.8 869.1L947.7 869.1L950.6 869.1L953.5 869.1L956.4 869.1L959.3 869.1L962.2 869.1L965.1 869.1L968.1 869.1L971.0 869.1L973.9 869.1L976.8 869.1L979.7 869.1L982.6 869.1L985.5 869.1L988.4 869.1L991.3 869.1L994.3 869.1L997.2 869.1L1000.1 869.1L1003.0 869.1L1005.9 869.1L1008.8 869.1L1011.7 869.1L1014.6 869.1L1017.5 869.1L1020.5 869.1L1023.4 869.1L1026.3 869.1L1029.2 869.1L1032.1 869.1L1035.0 869.1L1037.9 869.1L1040.8 869.1L1043.7 869.1L1046.7 869.1L1049.6 869.1L1052.5 869.1L1055.4 869.1L1058.3 869.1L1061.2 869.1L1064.1 869.1L1067.0 869.1L1069.9 869.1L1072.9 869.1L1075.8 869.1L1078.7 869.1L1081.6 869.1L1084.5 869.1L1087.4 869.1L1090.3 869.1L1093.2 869.1L1096.1 869.1L1099.1 869.1L1102.0 869.1L1104.9 869.1L1107.8 869.1L1110.7 869.1L1113.6 869.1L1116.5 869.1L1119.4 869.1L1122.3 869.1L1125.3 869.1L1128.2 869.1L1131.1 869.1L1134.0 869.1L1136.9 869.1L1139.8 869.1L1142.7 869.1L1145.6 869.1L1148.5 869.1L1151.5 869.1L1154.4 869.1L1157.3 869.1L1160.2 869.1L1163.1 869.1L1166.0 869.1L1168.9 869.1L1171.8 869.1L1174.7 869.1L1177.7 869.1L1180.6 869.1L1183.5 869.1L1186.4 869.1L1189.3 869.1L1192.2 869.1L1195.1 869.1L1198.0 869.1L1200.9 869.1L1203.8 869.1L1206.8 869.1L1209.7 869.1L1212.6 869.1L1215.5 869.1L1218.4 869.1L1221.3 869.1L1224.2 869.1L1227.1 869.1L1230.0 869.1L1233.0 869.1L1235.9 869.1L1238.8 869.1L1241.7 869.1L1244.6 869.1L1247.5 869.1L1250.4 869.1L1253.3 869.1L1256.2 869.1L1259.2 869.1L1262.1 869.1L1265.0 869.1L1267.9 869.1L1270.8 869.1L1273.7 869.1L1276.6 869.1L1279.5 869.1L1282.4 869.1L1285.4 869.1L1288.3 869.1L1291.2 869.1L1294.1 869.1L1297.0 869.1L1299.9 869.1L1302.8 869.1L1305.7 869.1L1308.6 869.1L1311.6 869.1L1314.5 869.1L1317.4 869.1L1320.3 869.1L1323.2 869.1L1326.1 869.1L1329.0 869.1L1331.9 869.1L1334.8 869.1L1337.8 869.1L1340.7 869.1L1343.6 869.1L1346.5 869.1L1349.4 869.1L1352.3 869.1L1355.2 869.1L1358.1 869.1L1361.0 869.1L1364.0 869.1L1366.9 869.1L1369.8 869.1L1372.7 869.1L1375.6 869.1L1378.5 869.1L1381.4 869.1L1384.3 869.1L1387.2 869.1L1390.2 869.1L1393.1 869.1L1396.0 869.1L1398.9 869.1L1401.8 869.1L1404.7 869.1L1407.6 869.1L1410.5 869.1L1413.4 869.1L1416.4 869.1L1419.3 869.1L1422.2 869.1L1425.1 869.1L1428.0 869.1L1430.9 869.1L1433.8 869.1L1436.7 869.1L1439.6 869.1L1442.6 869.1L1445.5 869.1L1448.4 869.1L1451.3 869.1L1454.2 869.1L1457.1 869.1L1460.0 869.1L1462.9 869.1L1465.8 869.1L1468.8 869.1L1471.7 869.1L1474.6 869.1L1477.5 869.1L1480.4 869.1L1483.3 869.1L1486.2 869.1L1489.1 869.1L1492.0 869.1L1495.0 869.1L1497.9 869.1L1500.8 869.1L1503.7 869.1L1506.6 869.1L1509.5 869.1L1512.4 869.1L1515.3 869.1L1518.2 869.1L1521.1 869.1L1524.1 869.1L1527.0 869.1L1529.9 869.1L1532.8 869.1L1535.7 869.1L1538.6 869.1L1541.5 869.1L1544.4 869.1L1547.3 869.1L1550.3 869.1L1553.2 869.1L1556.1 869.1L1559.0 869.1L1561.9 869.1L1564.8 869.1L1567.7 869.1L1570.6 869.1L1573.5 869.1L1576.5 869.1L1579.4 869.1L1582.3 869.1L1585.2 869.1L1588.1 869.1L1591.0 869.1L1593.9 869.1L1596.8 869.1L1599.7 869.1L1602.7 869.1L1605.6 869.1L1608.5 869.1L1611.4 869.1L1614.3 869.1L1617.2 869.1L1620.1 869.1L1623.0 869.1L1625.9 869.1L1628.9 869.1L1631.8 869.1L1634.7 869.1L1637.6 869.1L1640.5 869.1H1642"/>
</g>
<path fill="none" stroke="#000" stroke-width="3.8" d="M540.6 594.6L568 556.5"/>
<path fill="#000" stroke="#000" stroke-width="3.2" stroke-linejoin="round" d="M581.5 538.5L559.2 557.3L567.0 559.5L570.6 566.0Z"/>
<g font-family="'Liberation Serif','Times New Roman',serif" fill="#000">
<text font-size="49.5" text-anchor="end" transform="translate(160.5 1287.9) scale(1 1.045)">−15</text>
<text font-size="49.5" text-anchor="end" transform="translate(160.5 1153.7) scale(1 1.045)">−10</text>
<text font-size="49.5" text-anchor="end" transform="translate(160.5 1019.4) scale(1 1.045)">−5</text>
<text font-size="49.5" text-anchor="end" transform="translate(160.5 885.2) scale(1 1.045)">0</text>
<text font-size="49.5" text-anchor="end" transform="translate(160.5 751.0) scale(1 1.045)">5</text>
<text font-size="49.5" text-anchor="end" transform="translate(160.5 616.8) scale(1 1.045)">10</text>
<text font-size="49.5" text-anchor="end" transform="translate(160.5 482.6) scale(1 1.045)">15</text>
<text font-size="49.5" text-anchor="end" transform="translate(160.5 348.3) scale(1 1.045)">20</text>
<text font-size="49.5" text-anchor="end" transform="translate(160.5 214.1) scale(1 1.045)">25</text>
<text font-size="49.5" text-anchor="end" transform="translate(160.5 79.9) scale(1 1.045)">30</text>
<text font-size="49.5" text-anchor="middle" transform="translate(185.0 1338.7) scale(1 1.045)">0</text>
<text font-size="49.5" text-anchor="middle" transform="translate(476.1 1338.7) scale(1 1.045)">100</text>
<text font-size="49.5" text-anchor="middle" transform="translate(767.2 1338.7) scale(1 1.045)">200</text>
<text font-size="49.5" text-anchor="middle" transform="translate(1058.3 1338.7) scale(1 1.045)">300</text>
<text font-size="49.5" text-anchor="middle" transform="translate(1349.4 1338.7) scale(1 1.045)">400</text>
<text font-size="49.5" text-anchor="middle" transform="translate(1640.5 1338.7) scale(1 1.045)">500</text>
<text font-size="61.5" text-anchor="middle" transform="translate(912.5 1403.0) scale(1 1.045)">Time (s)</text>
<text font-size="62.5" text-anchor="middle" transform="translate(66.6 640.2) rotate(-90) scale(1.012 1)">Pitch (°)</text>
<text font-size="17.8" text-anchor="end" transform="translate(579.8 438.4) scale(1 1.000)">-4</text>
<text font-size="17.8" text-anchor="end" transform="translate(579.8 379.9) scale(1 1.000)">-2</text>
<text font-size="17.8" text-anchor="end" transform="translate(579.8 321.4) scale(1 1.000)">0</text>
<text font-size="17.8" text-anchor="end" transform="translate(579.8 262.9) scale(1 1.000)">2</text>
<text font-size="17.8" text-anchor="end" transform="translate(579.8 204.4) scale(1 1.000)">4</text>
<text font-size="17.8" text-anchor="end" transform="translate(579.8 145.9) scale(1 1.000)">6</text>
<text font-size="17.8" text-anchor="end" transform="translate(579.8 87.4) scale(1 1.000)">8</text>
<text font-size="17.8" text-anchor="end" transform="translate(579.8 28.9) scale(1 1.000)">10</text>
<text font-size="17.8" text-anchor="middle" transform="translate(636.0 456.4) scale(1 1.000)">20</text>
<text font-size="17.8" text-anchor="middle" transform="translate(748.2 456.4) scale(1 1.000)">40</text>
<text font-size="17.8" text-anchor="middle" transform="translate(860.4 456.4) scale(1 1.000)">60</text>
<text font-size="17.8" text-anchor="middle" transform="translate(972.6 456.4) scale(1 1.000)">80</text>
<text font-size="17.8" text-anchor="middle" transform="translate(1084.8 456.4) scale(1 1.000)">100</text>
</g>
<g stroke="#000" fill="none" shape-rendering="crispEdges">
<path stroke-width="3" d="M590.0 23.5H1193.0M590.0 433.0H1193.0"/>
<path stroke-width="2" d="M591.0 23.5V433.0M1192.0 23.5V433.0"/>
<path stroke-width="2.4" d="M591.0 403.8h4M1192.0 403.8h-4M591.0 374.5h9M1192.0 374.5h-9M591.0 345.2h4M1192.0 345.2h-4M591.0 316.0h9M1192.0 316.0h-9M591.0 286.8h4M1192.0 286.8h-4M591.0 257.5h9M1192.0 257.5h-9M591.0 228.2h4M1192.0 228.2h-4M591.0 199.0h9M1192.0 199.0h-9M591.0 169.8h4M1192.0 169.8h-4M591.0 140.5h9M1192.0 140.5h-9M591.0 111.2h4M1192.0 111.2h-4M591.0 82.0h9M1192.0 82.0h-9M591.0 52.8h4M1192.0 52.8h-4M636.0 23.5v8.5M636.0 433.0v-8.5M692.1 23.5v4.5M692.1 433.0v-4.5M748.2 23.5v8.5M748.2 433.0v-8.5M804.3 23.5v4.5M804.3 433.0v-4.5M860.4 23.5v8.5M860.4 433.0v-8.5M916.5 23.5v4.5M916.5 433.0v-4.5M972.6 23.5v8.5M972.6 433.0v-8.5M1028.7 23.5v4.5M1028.7 433.0v-4.5M1084.8 23.5v8.5M1084.8 433.0v-8.5M1140.9 23.5v4.5M1140.9 433.0v-4.5"/>
</g>
<g clip-path="url(#ic)" fill="none" stroke-width="2.2" stroke-linejoin="round" shape-rendering="crispEdges">
<path stroke="#0000ff" d="M591.1 316.0H1192"/>
<path stroke="#ff0000" d="M588.4 209.0L588.6 208.2L588.9 207.4L589.1 206.6L589.3 205.7L589.5 204.9L589.8 204.0L590.0 203.2L590.2 202.3L590.4 201.3L590.7 200.4L590.9 199.4L591.1 198.4L591.3 197.4L591.5 196.3L591.8 195.1L592.0 193.9L592.2 192.7L592.4 191.4L592.7 190.1L592.9 188.9L593.1 187.6L593.3 186.3L593.6 185.1L593.8 183.9L594.0 182.7L594.2 181.6L594.5 180.6L594.7 179.6L594.9 178.6L595.1 177.6L595.4 176.6L595.6 175.7L595.8 174.8L596.0 173.9L596.3 173.0L596.5 172.1L596.7 171.2L596.9 170.4L597.2 169.5L597.4 168.7L597.6 167.8L597.8 167.0L598.1 166.2L598.3 165.4L598.5 164.5L598.7 163.7L599.0 162.9L599.2 162.0L599.4 161.2L599.6 160.4L599.9 159.6L600.1 158.8L600.3 158.0L600.5 157.2L600.7 156.4L601.0 155.6L601.2 154.8L601.4 154.0L601.6 153.3L601.9 152.5L602.1 151.8L602.3 151.0L603.7 146.7L605.1 142.6L606.5 138.8L607.9 135.1L609.3 131.6L610.7 128.3L612.1 125.1L613.5 122.2L614.9 119.4L616.3 116.8L617.7 114.4L619.1 112.1L620.6 109.9L622.0 107.8L623.4 105.8L624.8 103.9L626.2 102.0L627.6 100.2L629.0 98.4L630.4 96.8L631.8 95.3L633.2 93.8L634.6 92.6L636.0 91.4L637.4 90.4L638.8 89.4L640.2 88.4L641.6 87.5L643.0 86.7L644.4 85.8L645.8 85.0L647.2 84.2L648.6 83.4L650.0 82.6L651.4 81.8L652.8 81.1L654.2 80.4L655.6 79.8L657.0 79.2L658.4 78.6L659.8 78.1L661.2 77.6L662.6 77.2L664.0 76.7L665.4 76.3L666.8 75.9L668.2 75.5L669.6 75.1L671.0 74.7L672.4 74.3L673.8 73.9L675.2 73.5L676.7 73.1L678.1 72.7L679.5 72.3L680.9 71.9L682.3 71.5L683.7 71.1L685.1 70.7L686.5 70.3L687.9 70.0L689.3 69.6L690.7 69.2L692.1 68.8L693.5 68.4L694.9 68.1L696.3 67.7L697.7 67.3L699.1 66.9L700.5 66.5L701.9 66.2L703.3 65.8L704.7 65.5L706.1 65.1L707.5 64.8L708.9 64.5L710.3 64.2L711.7 63.9L713.1 63.7L714.5 63.4L715.9 63.1L717.3 62.9L718.7 62.6L720.1 62.4L721.5 62.1L722.9 61.9L724.3 61.6L725.7 61.3L727.1 61.0L728.5 60.6L729.9 60.3L731.4 59.8L732.8 59.4L734.2 58.9L735.6 58.4L737.0 58.0L738.4 57.6L739.8 57.3L741.2 57.1L742.6 56.8L744.0 56.6L745.4 56.4L746.8 56.2L748.2 56.0L749.6 55.8L751.0 55.6L752.4 55.5L753.8 55.4L755.2 55.3L756.6 55.2L758.0 55.1L759.4 55.0L760.8 54.9L762.2 54.8L763.6 54.7L765.0 54.6L766.4 54.6L767.8 54.5L769.2 54.5L770.6 54.5L772.0 54.5L773.4 54.5L774.8 54.5L776.2 54.5L777.6 54.5L779.0 54.5L780.4 54.5L781.8 54.5L783.2 54.6L784.6 54.6L786.0 54.7L787.5 54.9L788.9 55.0L790.3 55.2L791.7 55.4L793.1 55.6L794.5 55.8L795.9 56.0L797.3 56.2L798.7 56.4L800.1 56.6L801.5 56.8L802.9 56.9L804.3 57.1L805.7 57.3L807.1 57.5L808.5 57.7L809.9 57.8L811.3 58.0L812.7 58.2L814.1 58.4L815.5 58.6L816.9 58.8L818.3 59.0L819.7 59.3L821.1 59.5L822.5 59.7L823.9 60.0L825.3 60.2L826.7 60.5L828.1 60.8L829.5 61.0L830.9 61.3L832.3 61.6L833.7 62.0L835.1 62.3L836.5 62.6L837.9 62.9L839.3 63.3L840.7 63.6L842.1 64.0L843.6 64.3L845.0 64.7L846.4 65.0L847.8 65.4L849.2 65.8L850.6 66.1L852.0 66.5L853.4 66.9L854.8 67.3L856.2 67.8L857.6 68.2L859.0 68.6L860.4 69.1L861.8 69.5L863.2 70.0L864.6 70.5L866.0 71.0L867.4 71.5L868.8 72.1L870.2 72.7L871.6 73.3L873.0 73.9L874.4 74.5L875.8 75.2L877.2 75.8L878.6 76.5L880.0 77.1L881.4 77.7L882.8 78.4L884.2 79.0L885.6 79.7L887.0 80.3L888.4 81.0L889.8 81.6L891.2 82.3L892.6 83.0L894.0 83.6L895.4 84.3L896.8 85.0L898.2 85.7L899.7 86.4L901.1 87.1L902.5 87.8L903.9 88.6L905.3 89.3L906.7 90.1L908.1 90.8L909.5 91.6L910.9 92.4L912.3 93.1L913.7 93.9L915.1 94.7L916.5 95.5L917.9 96.3L919.3 97.1L920.7 97.9L922.1 98.6L923.5 99.4L924.9 100.2L926.3 101.0L927.7 101.8L929.1 102.6L930.5 103.5L931.9 104.3L933.3 105.1L934.7 105.9L936.1 106.7L937.5 107.5L938.9 108.3L940.3 109.2L941.7 110.0L943.1 110.8L944.5 111.6L945.9 112.4L947.3 113.2L948.7 113.9L950.1 114.7L951.5 115.5L952.9 116.3L954.3 117.1L955.8 117.8L957.2 118.6L958.6 119.4L960.0 120.2L961.4 121.0L962.8 121.8L964.2 122.6L965.6 123.4L967.0 124.3L968.4 125.1L969.8 126.0L971.2 126.8L972.6 127.7L974.0 128.5L975.4 129.4L976.8 130.2L978.2 131.1L979.6 132.0L981.0 132.8L982.4 133.7L983.8 134.5L985.2 135.4L986.6 136.2L988.0 137.0L989.4 137.9L990.8 138.7L992.2 139.5L993.6 140.3L995.0 141.2L996.4 142.0L997.8 142.8L999.2 143.6L1000.6 144.5L1002.0 145.3L1003.4 146.1L1004.8 146.9L1006.2 147.8L1007.6 148.6L1009.0 149.4L1010.4 150.3L1011.9 151.1L1013.3 151.9L1014.7 152.8L1016.1 153.6L1017.5 154.4L1018.9 155.2L1020.3 156.1L1021.7 156.9L1023.1 157.7L1024.5 158.6L1025.9 159.4L1027.3 160.2L1028.7 161.1L1030.1 161.9L1031.5 162.7L1032.9 163.6L1034.3 164.4L1035.7 165.2L1037.1 166.1L1038.5 166.9L1039.9 167.7L1041.3 168.6L1042.7 169.4L1044.1 170.2L1045.5 171.0L1046.9 171.9L1048.3 172.7L1049.7 173.5L1051.1 174.3L1052.5 175.1L1053.9 175.9L1055.3 176.7L1056.7 177.4L1058.1 178.2L1059.5 179.0L1060.9 179.8L1062.3 180.6L1063.7 181.3L1065.1 182.1L1066.5 182.9L1068.0 183.7L1069.4 184.5L1070.8 185.3L1072.2 186.1L1073.6 186.9L1075.0 187.7L1076.4 188.6L1077.8 189.4L1079.2 190.2L1080.6 191.0L1082.0 191.8L1083.4 192.7L1084.8 193.5L1086.2 194.3L1087.6 195.1L1089.0 195.9L1090.4 196.7L1091.8 197.4L1093.2 198.2L1094.6 199.0L1096.0 199.7L1097.4 200.5L1098.8 201.3L1100.2 202.0L1101.6 202.8L1103.0 203.5L1104.4 204.3L1105.8 205.0L1107.2 205.7L1108.6 206.5L1110.0 207.2L1111.4 207.9L1112.8 208.6L1114.2 209.4L1115.6 210.1L1117.0 210.8L1118.4 211.5L1119.8 212.2L1121.2 212.9L1122.6 213.6L1124.1 214.3L1125.5 214.9L1126.9 215.6L1128.3 216.3L1129.7 217.0L1131.1 217.6L1132.5 218.3L1133.9 219.0L1135.3 219.6L1136.7 220.3L1138.1 220.9L1139.5 221.6L1140.9 222.2L1142.3 222.9L1143.7 223.5L1145.1 224.1L1146.5 224.8L1147.9 225.4L1149.3 226.0L1150.7 226.6L1152.1 227.2L1153.5 227.8L1154.9 228.4L1156.3 228.9L1157.7 229.5L1159.1 230.1L1160.5 230.6L1161.9 231.2L1163.3 231.7L1164.7 232.2L1166.1 232.8L1167.5 233.3L1168.9 233.9L1170.3 234.4L1171.7 235.0L1173.1 235.5L1174.5 236.1L1175.9 236.7L1177.3 237.3L1178.7 237.9L1180.2 238.5L1181.6 239.1L1183.0 239.7L1184.4 240.2L1185.8 240.6L1187.2 241.0L1188.6 241.4L1190.0 241.9L1191.4 242.3L1192.8 242.7L1194.2 243.1L1195.6 243.4L1197.0 243.8"/>
<path stroke="#000000" d="M588.4 446.5L588.6 445.8L588.9 445.1L589.1 444.4L589.3 443.5L589.5 442.5L589.8 441.3L590.0 440.0L590.2 438.6L590.4 437.2L590.7 435.8L590.9 434.4L591.1 433.0L591.3 431.7L591.5 430.3L591.8 429.0L592.0 427.6L592.2 426.2L592.4 424.9L592.7 423.5L592.9 422.1L593.1 420.7L593.3 419.3L593.6 417.8L593.8 416.4L594.0 415.0L594.2 413.6L594.5 412.1L594.7 410.7L594.9 409.2L595.1 407.8L595.4 406.3L595.6 404.9L595.8 403.4L596.0 402.0L596.3 400.5L596.5 399.0L596.7 397.6L596.9 396.1L597.2 394.7L597.4 393.2L597.6 391.8L597.8 390.3L598.1 388.8L598.3 387.4L598.5 385.9L598.7 384.5L599.0 383.1L599.2 381.6L599.4 380.2L599.6 378.8L599.9 377.3L600.1 375.9L600.3 374.5L600.5 373.1L600.7 371.7L601.0 370.3L601.2 368.9L601.4 367.4L601.6 366.0L601.9 364.6L602.1 363.2L602.3 361.8L603.7 353.1L605.1 344.3L606.5 335.4L607.9 326.4L609.3 317.1L610.7 307.6L612.1 297.7L613.5 287.6L614.9 277.4L616.3 267.4L617.7 257.7L619.1 248.1L620.6 238.6L622.0 229.3L623.4 220.4L624.8 211.9L626.2 203.7L627.6 195.7L629.0 188.3L630.4 181.3L631.8 174.5L633.2 168.1L634.6 162.4L636.0 157.7L637.4 153.7L638.8 150.8L640.2 148.8L641.6 147.1L643.0 145.8L644.4 144.8L645.8 143.9L647.2 143.1L648.6 142.2L650.0 141.2L651.4 140.1L652.8 139.0L654.2 137.6L655.6 135.6L657.0 133.2L658.4 130.4L659.8 127.7L661.2 124.6L662.6 121.4L664.0 118.2L665.4 115.3L666.8 112.7L668.2 110.4L669.6 108.6L671.0 107.4L672.4 106.7L673.8 106.7L675.2 107.2L676.7 108.0L678.1 109.1L679.5 110.9L680.9 113.4L682.3 116.2L683.7 119.3L685.1 123.0L686.5 127.2L687.9 131.8L689.3 136.7L690.7 142.5L692.1 148.9L693.5 155.5L694.9 161.9L696.3 167.9L697.7 173.9L699.1 179.8L700.5 185.6L701.9 191.3L703.3 196.8L704.7 202.2L706.1 207.5L707.5 212.9L708.9 218.2L710.3 223.5L711.7 228.8L713.1 234.0L714.5 239.0L715.9 244.2L717.3 249.2L718.7 253.9L720.1 258.1L721.5 261.9L722.9 265.4L724.3 268.4L725.7 270.8L727.1 272.8L728.5 274.5L729.9 275.7L731.4 276.5L732.8 277.0L734.2 277.5L735.6 277.7L737.0 277.5L738.4 276.8L739.8 275.8L741.2 274.8L742.6 273.7L744.0 272.5L745.4 271.1L746.8 269.8L748.2 268.5L749.6 267.4L751.0 266.5L752.4 265.5L753.8 264.7L755.2 263.9L756.6 263.3L758.0 263.0L759.4 262.8L760.8 262.6L762.2 262.5L763.6 262.5L765.0 262.6L766.4 263.0L767.8 263.4L769.2 264.0L770.6 264.5L772.0 265.1L773.4 265.9L774.8 266.7L776.2 267.6L777.6 268.6L779.0 269.5L780.4 270.4L781.8 271.4L783.2 272.5L784.6 273.6L786.0 274.6L787.5 275.8L788.9 276.9L790.3 278.0L791.7 279.1L793.1 280.2L794.5 281.4L795.9 282.6L797.3 283.8L798.7 284.9L800.1 286.0L801.5 287.0L802.9 287.9L804.3 288.7L805.7 289.5L807.1 290.2L808.5 290.9L809.9 291.5L811.3 292.1L812.7 292.6L814.1 292.9L815.5 292.9L816.9 292.9L818.3 292.9L819.7 292.9L821.1 292.9L822.5 292.9L823.9 292.9L825.3 292.9L826.7 292.9L828.1 292.9L829.5 292.9L830.9 292.9L832.3 292.9L833.7 292.9L835.1 292.9L836.5 292.9L837.9 292.9L839.3 292.9L840.7 293.0L842.1 293.0L843.6 293.0L845.0 293.1L846.4 293.1L847.8 293.2L849.2 293.3L850.6 293.4L852.0 293.7L853.4 293.9L854.8 294.3L856.2 294.6L857.6 294.9L859.0 295.2L860.4 295.5L861.8 295.7L863.2 295.9L864.6 296.1L866.0 296.3L867.4 296.5L868.8 296.7L870.2 296.9L871.6 297.1L873.0 297.3L874.4 297.4L875.8 297.6L877.2 297.8L878.6 298.0L880.0 298.2L881.4 298.3L882.8 298.5L884.2 298.7L885.6 298.9L887.0 299.0L888.4 299.1L889.8 299.2L891.2 299.3L892.6 299.4L894.0 299.5L895.4 299.5L896.8 299.6L898.2 299.6L899.7 299.7L901.1 299.7L902.5 299.8L903.9 299.8L905.3 299.9L906.7 299.9L908.1 299.9L909.5 300.0L910.9 300.0L912.3 300.1L913.7 300.1L915.1 300.1L916.5 300.2L917.9 300.2L919.3 300.2L920.7 300.3L922.1 300.3L923.5 300.4L924.9 300.4L926.3 300.5L927.7 300.5L929.1 300.6L930.5 300.6L931.9 300.7L933.3 300.8L934.7 300.8L936.1 300.9L937.5 300.9L938.9 301.0L940.3 301.0L941.7 301.1L943.1 301.1L944.5 301.2L945.9 301.2L947.3 301.3L948.7 301.3L950.1 301.4L951.5 301.4L952.9 301.5L954.3 301.5L955.8 301.6L957.2 301.6L958.6 301.7L960.0 301.7L961.4 301.7L962.8 301.8L964.2 301.8L965.6 301.9L967.0 301.9L968.4 302.0L969.8 302.0L971.2 302.0L972.6 302.1L974.0 302.1L975.4 302.2L976.8 302.2L978.2 302.2L979.6 302.2L981.0 302.3L982.4 302.3L983.8 302.3L985.2 302.3L986.6 302.3L988.0 302.4L989.4 302.4L990.8 302.4L992.2 302.4L993.6 302.4L995.0 302.4L996.4 302.5L997.8 302.5L999.2 302.5L1000.6 302.5L1002.0 302.5L1003.4 302.5L1004.8 302.6L1006.2 302.6L1007.6 302.6L1009.0 302.6L1010.4 302.6L1011.9 302.6L1013.3 302.6L1014.7 302.6L1016.1 302.7L1017.5 302.7L1018.9 302.7L1020.3 302.7L1021.7 302.7L1023.1 302.7L1024.5 302.7L1025.9 302.7L1027.3 302.7L1028.7 302.7L1030.1 302.7L1031.5 302.8L1032.9 302.8L1034.3 302.8L1035.7 302.8L1037.1 302.8L1038.5 302.8L1039.9 302.8L1041.3 302.8L1042.7 302.8L1044.1 302.8L1045.5 302.8L1046.9 302.8L1048.3 302.8L1049.7 302.8L1051.1 302.8L1052.5 302.8L1053.9 302.8L1055.3 302.8L1056.7 302.8L1058.1 302.8L1059.5 302.8L1060.9 302.8L1062.3 302.8L1063.7 302.8L1065.1 302.8L1066.5 302.8L1068.0 302.8L1069.4 302.8L1070.8 302.8L1072.2 302.8L1073.6 302.8L1075.0 302.8L1076.4 302.8L1077.8 302.8L1079.2 302.8L1080.6 302.8L1082.0 302.8L1083.4 302.8L1084.8 302.8L1086.2 302.8L1087.6 302.8L1089.0 302.8L1090.4 302.8L1091.8 302.8L1093.2 302.8L1094.6 302.8L1096.0 302.8L1097.4 302.8L1098.8 302.8L1100.2 302.8L1101.6 302.8L1103.0 302.8L1104.4 302.8L1105.8 302.8L1107.2 302.8L1108.6 302.8L1110.0 302.8L1111.4 302.8L1112.8 302.8L1114.2 302.8L1115.6 302.8L1117.0 302.8L1118.4 302.8L1119.8 302.8L1121.2 302.8L1122.6 302.8L1124.1 302.8L1125.5 302.8L1126.9 302.8L1128.3 302.8L1129.7 302.8L1131.1 302.8L1132.5 302.8L1133.9 302.8L1135.3 302.8L1136.7 302.8L1138.1 302.8L1139.5 302.8L1140.9 302.8L1142.3 302.8L1143.7 302.8L1145.1 302.8L1146.5 302.8L1147.9 302.8L1149.3 302.8L1150.7 302.8L1152.1 302.8L1153.5 302.8L1154.9 302.8L1156.3 302.8L1157.7 302.8L1159.1 302.8L1160.5 302.8L1161.9 302.8L1163.3 302.8L1164.7 302.8L1166.1 302.8L1167.5 302.8L1168.9 302.8L1170.3 302.8L1171.7 302.8L1173.1 302.8L1174.5 302.8L1175.9 302.8L1177.3 302.8L1178.7 302.8L1180.2 302.8L1181.6 302.8L1183.0 302.8L1184.4 302.8L1185.8 302.8L1187.2 302.8L1188.6 302.8L1190.0 302.8L1191.4 302.8L1192.8 302.8L1194.2 302.8L1195.6 302.8L1197.0 302.8"/>
<path stroke="#00ff00" d="M588.4 372.2L588.6 371.9L588.9 371.7L589.1 371.4L589.3 371.2L589.5 371.0L589.8 370.8L590.0 370.6L590.2 370.5L590.4 370.3L590.7 370.2L590.9 370.0L591.1 369.8L591.3 369.6L591.5 369.4L591.8 369.2L592.0 369.0L592.2 368.8L592.4 368.6L592.7 368.4L592.9 368.2L593.1 368.0L593.3 367.9L593.6 367.8L593.8 367.8L594.0 367.8L594.2 367.8L594.5 368.0L594.7 368.1L594.9 368.4L595.1 368.6L595.4 368.9L595.6 369.3L595.8 369.6L596.0 370.1L596.3 370.5L596.5 370.9L596.7 371.4L596.9 371.9L597.2 372.4L597.4 372.9L597.6 373.4L597.8 373.9L598.1 374.5L598.3 375.1L598.5 375.7L598.7 376.5L599.0 377.3L599.2 378.1L599.4 379.0L599.6 380.0L599.9 381.0L600.1 382.0L600.3 383.0L600.5 384.1L600.7 385.1L601.0 386.2L601.2 387.3L601.4 388.4L601.6 389.4L601.9 390.5L602.1 391.5L602.3 392.6L603.7 398.4L605.1 404.3L606.5 410.1L607.9 415.6L609.3 420.9L610.7 426.2L612.1 431.0L613.5 434.0L614.9 436.5L616.3 438.7L617.7 440.4L619.1 441.5L620.6 441.8L622.0 441.2L623.4 439.9L624.8 438.2L626.2 436.1L627.6 433.9L629.0 431.6L630.4 428.7L631.8 425.4L633.2 421.6L634.6 417.4L636.0 412.9L637.4 408.1L638.8 403.2L640.2 397.6L641.6 391.4L643.0 384.5L644.4 377.0L645.8 368.5L647.2 358.0L648.6 348.3L650.0 341.1L651.4 334.8L652.8 329.7L654.2 325.6L655.6 321.8L657.0 318.9L658.4 317.8L659.8 318.1L661.2 319.2L662.6 320.5L664.0 322.0L665.4 323.4L666.8 324.6L668.2 326.1L669.6 327.4L671.0 328.5L672.4 328.9L673.8 328.2L675.2 326.5L676.7 324.2L678.1 321.6L679.5 318.4L680.9 314.1L682.3 309.1L683.7 303.5L685.1 297.5L686.5 289.9L687.9 281.1L689.3 272.2L690.7 264.4L692.1 258.1L693.5 252.4L694.9 247.2L696.3 242.5L697.7 238.3L699.1 234.3L700.5 230.6L701.9 227.6L703.3 225.3L704.7 223.6L706.1 222.1L707.5 221.1L708.9 220.6L710.3 221.0L711.7 222.0L713.1 223.5L714.5 225.2L715.9 227.0L717.3 228.9L718.7 231.3L720.1 234.0L721.5 237.0L722.9 240.2L724.3 243.6L725.7 247.3L727.1 251.4L728.5 255.8L729.9 260.6L731.4 265.5L732.8 270.5L734.2 275.8L735.6 281.4L737.0 287.3L738.4 293.1L739.8 298.6L741.2 304.4L742.6 310.0L744.0 315.2L745.4 319.5L746.8 323.1L748.2 326.4L749.6 329.3L751.0 331.4L752.4 333.0L753.8 334.3L755.2 335.1L756.6 335.2L758.0 334.5L759.4 333.3L760.8 331.7L762.2 330.0L763.6 328.1L765.0 325.7L766.4 323.0L767.8 320.3L769.2 317.7L770.6 315.4L772.0 313.5L773.4 311.6L774.8 309.8L776.2 308.1L777.6 306.5L779.0 305.0L780.4 303.6L781.8 302.3L783.2 301.0L784.6 299.8L786.0 298.6L787.5 297.7L788.9 297.1L790.3 296.7L791.7 296.3L793.1 296.1L794.5 295.9L795.9 295.8L797.3 295.9L798.7 296.1L800.1 296.4L801.5 296.8L802.9 297.2L804.3 297.6L805.7 298.1L807.1 298.6L808.5 299.3L809.9 300.1L811.3 300.9L812.7 301.8L814.1 302.7L815.5 303.6L816.9 304.6L818.3 305.7L819.7 306.9L821.1 308.1L822.5 309.2L823.9 310.3L825.3 311.2L826.7 312.1L828.1 313.1L829.5 313.9L830.9 314.7L832.3 315.3L833.7 315.8L835.1 316.2L836.5 316.5L837.9 316.8L839.3 317.0L840.7 317.0L842.1 317.0L843.6 316.8L845.0 316.6L846.4 316.3L847.8 316.0L849.2 315.7L850.6 315.3L852.0 315.0L853.4 314.5L854.8 313.9L856.2 313.3L857.6 312.8L859.0 312.2L860.4 311.7L861.8 311.3L863.2 311.1L864.6 310.8L866.0 310.6L867.4 310.4L868.8 310.3L870.2 310.2L871.6 310.2L873.0 310.2L874.4 310.4L875.8 310.5L877.2 310.8L878.6 311.0L880.0 311.3L881.4 311.5L882.8 311.7L884.2 311.9L885.6 312.2L887.0 312.4L888.4 312.6L889.8 312.8L891.2 313.1L892.6 313.3L894.0 313.5L895.4 313.7L896.8 313.9L898.2 314.1L899.7 314.2L901.1 314.3L902.5 314.4L903.9 314.5L905.3 314.6L906.7 314.7L908.1 314.8L909.5 314.9L910.9 315.0L912.3 315.0L913.7 315.1L915.1 315.1L916.5 315.1L917.9 315.1L919.3 315.1L920.7 315.1L922.1 315.1L923.5 315.1L924.9 315.1L926.3 315.0L927.7 315.0L929.1 315.0L930.5 315.0L931.9 315.0L933.3 314.9L934.7 314.9L936.1 314.9L937.5 314.9L938.9 314.9L940.3 314.8L941.7 314.8L943.1 314.8L944.5 314.8L945.9 314.8L947.3 314.8L948.7 314.8L950.1 314.8L951.5 314.8L952.9 314.8L954.3 314.8L955.8 314.8L957.2 314.8L958.6 314.8L960.0 314.8L961.4 314.8L962.8 314.8L964.2 314.8L965.6 314.8L967.0 314.8L968.4 314.8L969.8 314.8L971.2 314.8L972.6 314.8L974.0 314.8L975.4 314.8L976.8 314.8L978.2 314.8L979.6 314.8L981.0 314.8L982.4 314.8L983.8 314.8L985.2 314.8L986.6 314.8L988.0 314.8L989.4 314.8L990.8 314.8L992.2 314.8L993.6 314.8L995.0 314.8L996.4 314.8L997.8 314.8L999.2 314.8L1000.6 314.8L1002.0 314.8L1003.4 314.8L1004.8 314.8L1006.2 314.8L1007.6 314.8L1009.0 314.8L1010.4 314.8L1011.9 314.8L1013.3 314.8L1014.7 314.8L1016.1 314.8L1017.5 314.8L1018.9 314.8L1020.3 314.8L1021.7 314.8L1023.1 314.8L1024.5 314.8L1025.9 314.8L1027.3 314.8L1028.7 314.8L1030.1 314.8L1031.5 314.8L1032.9 314.8L1034.3 314.8L1035.7 314.8L1037.1 314.8L1038.5 314.8L1039.9 314.8L1041.3 314.8L1042.7 314.8L1044.1 314.8L1045.5 314.8L1046.9 314.8L1048.3 314.8L1049.7 314.8L1051.1 314.8L1052.5 314.8L1053.9 314.8L1055.3 314.8L1056.7 314.8L1058.1 314.8L1059.5 314.8L1060.9 314.8L1062.3 314.8L1063.7 314.8L1065.1 314.8L1066.5 314.8L1068.0 314.8L1069.4 314.8L1070.8 314.8L1072.2 314.8L1073.6 314.8L1075.0 314.8L1076.4 314.8L1077.8 314.8L1079.2 314.8L1080.6 314.8L1082.0 314.8L1083.4 314.8L1084.8 314.8L1086.2 314.8L1087.6 314.8L1089.0 314.8L1090.4 314.8L1091.8 314.8L1093.2 314.8L1094.6 314.8L1096.0 314.8L1097.4 314.8L1098.8 314.8L1100.2 314.8L1101.6 314.8L1103.0 314.8L1104.4 314.8L1105.8 314.8L1107.2 314.8L1108.6 314.8L1110.0 314.8L1111.4 314.8L1112.8 314.8L1114.2 314.8L1115.6 314.8L1117.0 314.8L1118.4 314.8L1119.8 314.8L1121.2 314.8L1122.6 314.8L1124.1 314.8L1125.5 314.8L1126.9 314.8L1128.3 314.8L1129.7 314.8L1131.1 314.8L1132.5 314.8L1133.9 314.8L1135.3 314.8L1136.7 314.8L1138.1 314.8L1139.5 314.8L1140.9 314.8L1142.3 314.8L1143.7 314.8L1145.1 314.8L1146.5 314.8L1147.9 314.8L1149.3 314.8L1150.7 314.8L1152.1 314.8L1153.5 314.8L1154.9 314.8L1156.3 314.8L1157.7 314.8L1159.1 314.8L1160.5 314.8L1161.9 314.8L1163.3 314.8L1164.7 314.8L1166.1 314.8L1167.5 314.8L1168.9 314.8L1170.3 314.8L1171.7 314.8L1173.1 314.8L1174.5 314.8L1175.9 314.8L1177.3 314.8L1178.7 314.8L1180.2 314.8L1181.6 314.8L1183.0 314.8L1184.4 314.8L1185.8 314.8L1187.2 314.8L1188.6 314.8L1190.0 314.8L1191.4 314.8L1192.8 314.8L1194.2 314.8L1195.6 314.8L1197.0 314.8"/>
<path stroke="#7f00ff" d="M588.4 290.4L588.6 290.5L588.9 290.6L589.1 290.7L589.3 290.8L589.5 290.8L589.8 290.9L590.0 291.0L590.2 291.1L590.4 291.1L590.7 291.2L590.9 291.2L591.1 291.3L591.3 291.3L591.5 291.4L591.8 291.4L592.0 291.4L592.2 291.5L592.4 291.5L592.7 291.6L592.9 291.6L593.1 291.6L593.3 291.7L593.6 291.7L593.8 291.7L594.0 291.8L594.2 291.8L594.5 291.8L594.7 291.9L594.9 291.9L595.1 291.9L595.4 292.0L595.6 292.0L595.8 292.0L596.0 292.1L596.3 292.1L596.5 292.1L596.7 292.2L596.9 292.2L597.2 292.2L597.4 292.3L597.6 292.3L597.8 292.3L598.1 292.3L598.3 292.4L598.5 292.4L598.7 292.4L599.0 292.5L599.2 292.5L599.4 292.5L599.6 292.5L599.9 292.5L600.1 292.6L600.3 292.6L600.5 292.6L600.7 292.6L601.0 292.7L601.2 292.7L601.4 292.7L601.6 292.7L601.9 292.7L602.1 292.7L602.3 292.8L603.7 292.8L605.1 292.9L606.5 292.9L607.9 292.9L609.3 292.8L610.7 292.6L612.1 292.5L613.5 292.3L614.9 292.1L616.3 291.9L617.7 291.7L619.1 291.4L620.6 291.1L622.0 290.8L623.4 290.4L624.8 290.0L626.2 289.6L627.6 289.1L629.0 288.7L630.4 288.2L631.8 287.8L633.2 287.4L634.6 287.0L636.0 286.6L637.4 286.1L638.8 285.7L640.2 285.3L641.6 284.9L643.0 284.5L644.4 284.1L645.8 283.7L647.2 283.3L648.6 283.0L650.0 282.7L651.4 282.4L652.8 282.1L654.2 281.8L655.6 281.5L657.0 281.2L658.4 281.0L659.8 280.8L661.2 280.6L662.6 280.4L664.0 280.3L665.4 280.2L666.8 280.1L668.2 280.0L669.6 279.9L671.0 279.8L672.4 279.7L673.8 279.4L675.2 279.2L676.7 278.9L678.1 278.9L679.5 278.9L680.9 278.9L682.3 279.0L683.7 279.2L685.1 279.3L686.5 279.4L687.9 279.6L689.3 279.8L690.7 280.0L692.1 280.2L693.5 280.5L694.9 280.8L696.3 281.1L697.7 281.4L699.1 281.7L700.5 282.0L701.9 282.3L703.3 282.7L704.7 283.0L706.1 283.3L707.5 283.7L708.9 284.0L710.3 284.4L711.7 284.8L713.1 285.2L714.5 285.6L715.9 286.0L717.3 286.3L718.7 286.7L720.1 287.0L721.5 287.4L722.9 287.7L724.3 288.0L725.7 288.3L727.1 288.6L728.5 288.9L729.9 289.2L731.4 289.5L732.8 289.8L734.2 290.2L735.6 290.5L737.0 290.8L738.4 291.2L739.8 291.6L741.2 292.0L742.6 292.4L744.0 292.9L745.4 293.4L746.8 293.8L748.2 294.3L749.6 294.8L751.0 295.3L752.4 295.8L753.8 296.3L755.2 296.8L756.6 297.2L758.0 297.7L759.4 298.1L760.8 298.5L762.2 298.9L763.6 299.3L765.0 299.7L766.4 300.1L767.8 300.5L769.2 300.8L770.6 301.2L772.0 301.6L773.4 302.0L774.8 302.3L776.2 302.7L777.6 303.1L779.0 303.4L780.4 303.8L781.8 304.2L783.2 304.5L784.6 304.9L786.0 305.3L787.5 305.6L788.9 306.0L790.3 306.3L791.7 306.6L793.1 306.9L794.5 307.2L795.9 307.5L797.3 307.8L798.7 308.0L800.1 308.3L801.5 308.5L802.9 308.8L804.3 309.0L805.7 309.2L807.1 309.4L808.5 309.6L809.9 309.8L811.3 310.0L812.7 310.2L814.1 310.4L815.5 310.6L816.9 310.8L818.3 311.0L819.7 311.2L821.1 311.4L822.5 311.5L823.9 311.7L825.3 311.9L826.7 312.1L828.1 312.2L829.5 312.3L830.9 312.5L832.3 312.6L833.7 312.7L835.1 312.7L836.5 312.8L837.9 312.9L839.3 312.9L840.7 313.0L842.1 313.1L843.6 313.1L845.0 313.2L846.4 313.2L847.8 313.3L849.2 313.3L850.6 313.3L852.0 313.4L853.4 313.4L854.8 313.4L856.2 313.4L857.6 313.3L859.0 313.3L860.4 313.3L861.8 313.2L863.2 313.1L864.6 313.1L866.0 313.0L867.4 313.0L868.8 312.9L870.2 312.8L871.6 312.8L873.0 312.7L874.4 312.7L875.8 312.6L877.2 312.6L878.6 312.6L880.0 312.5L881.4 312.5L882.8 312.4L884.2 312.4L885.6 312.4L887.0 312.3L888.4 312.3L889.8 312.3L891.2 312.2L892.6 312.2L894.0 312.2L895.4 312.2L896.8 312.2L898.2 312.1L899.7 312.1L901.1 312.1L902.5 312.1L903.9 312.1L905.3 312.1L906.7 312.1L908.1 312.1L909.5 312.1L910.9 312.1L912.3 312.1L913.7 312.1L915.1 312.1L916.5 312.1L917.9 312.1L919.3 312.1L920.7 312.1L922.1 312.1L923.5 312.1L924.9 312.1L926.3 312.1L927.7 312.1L929.1 312.1L930.5 312.1L931.9 312.1L933.3 312.1L934.7 312.1L936.1 312.0L937.5 312.0L938.9 312.0L940.3 312.0L941.7 312.0L943.1 312.0L944.5 312.0L945.9 312.0L947.3 312.0L948.7 312.0L950.1 312.0L951.5 312.0L952.9 312.0L954.3 312.0L955.8 312.0L957.2 312.0L958.6 312.0L960.0 312.0L961.4 312.0L962.8 312.0L964.2 312.0L965.6 312.0L967.0 312.0L968.4 312.0L969.8 312.0L971.2 312.0L972.6 312.0L974.0 312.0L975.4 312.0L976.8 312.0L978.2 312.0L979.6 312.0L981.0 312.0L982.4 312.0L983.8 312.0L985.2 312.0L986.6 312.0L988.0 312.0L989.4 312.0L990.8 312.0L992.2 312.0L993.6 312.0L995.0 312.0L996.4 312.0L997.8 312.0L999.2 312.0L1000.6 312.0L1002.0 312.0L1003.4 312.0L1004.8 312.0L1006.2 312.0L1007.6 312.0L1009.0 312.0L1010.4 312.0L1011.9 312.0L1013.3 312.0L1014.7 312.0L1016.1 312.0L1017.5 312.0L1018.9 312.0L1020.3 312.0L1021.7 312.0L1023.1 312.0L1024.5 312.0L1025.9 312.0L1027.3 312.0L1028.7 312.0L1030.1 312.0L1031.5 312.0L1032.9 312.0L1034.3 312.0L1035.7 312.0L1037.1 312.0L1038.5 312.0L1039.9 312.0L1041.3 312.0L1042.7 312.0L1044.1 312.0L1045.5 312.0L1046.9 312.0L1048.3 312.0L1049.7 312.0L1051.1 312.0L1052.5 312.0L1053.9 312.0L1055.3 312.0L1056.7 312.0L1058.1 312.0L1059.5 312.0L1060.9 312.0L1062.3 312.0L1063.7 312.0L1065.1 312.0L1066.5 312.0L1068.0 312.0L1069.4 312.0L1070.8 312.0L1072.2 312.0L1073.6 312.0L1075.0 312.0L1076.4 312.0L1077.8 312.0L1079.2 312.0L1080.6 312.0L1082.0 312.0L1083.4 312.0L1084.8 312.0L1086.2 312.0L1087.6 312.0L1089.0 312.0L1090.4 312.0L1091.8 312.0L1093.2 312.0L1094.6 312.0L1096.0 312.0L1097.4 312.0L1098.8 312.0L1100.2 312.0L1101.6 312.0L1103.0 312.0L1104.4 312.0L1105.8 312.0L1107.2 312.0L1108.6 312.0L1110.0 312.0L1111.4 312.0L1112.8 312.0L1114.2 312.0L1115.6 312.0L1117.0 312.0L1118.4 312.0L1119.8 312.0L1121.2 312.0L1122.6 312.0L1124.1 312.0L1125.5 312.0L1126.9 312.0L1128.3 312.0L1129.7 312.0L1131.1 312.0L1132.5 312.0L1133.9 312.0L1135.3 312.0L1136.7 312.0L1138.1 312.0L1139.5 312.0L1140.9 312.0L1142.3 312.0L1143.7 312.0L1145.1 312.0L1146.5 312.0L1147.9 312.0L1149.3 312.0L1150.7 312.0L1152.1 312.0L1153.5 312.0L1154.9 312.0L1156.3 312.0L1157.7 312.0L1159.1 312.0L1160.5 312.0L1161.9 312.0L1163.3 312.0L1164.7 312.0L1166.1 312.0L1167.5 312.0L1168.9 312.0L1170.3 312.0L1171.7 312.0L1173.1 312.0L1174.5 312.0L1175.9 312.0L1177.3 312.0L1178.7 312.0L1180.2 312.0L1181.6 312.0L1183.0 312.0L1184.4 312.0L1185.8 312.0L1187.2 312.0L1188.6 312.0L1190.0 312.0L1191.4 312.0L1192.8 312.0L1194.2 312.0L1195.6 312.0L1197.0 312.0"/>
</g>
<rect x="1185.2" y="83" width="524" height="248.7" fill="#fff"/>
<path fill="none" stroke="#000" stroke-width="3" shape-rendering="crispEdges" d="M1185.2 84.5H1709.2M1185.2 330.3H1709.2"/>
<path fill="none" stroke="#000" stroke-width="2" shape-rendering="crispEdges" d="M1186.2 83V331.8M1708.2 83V331.8"/>
<path stroke="#0000ff" stroke-width="4" stroke-linecap="round" d="M1192 111.0H1276"/>
<path stroke="#ff0000" stroke-width="4" stroke-linecap="round" d="M1192 159.2H1276"/>
<path stroke="#7f00ff" stroke-width="4" stroke-linecap="round" d="M1192 207.5H1276"/>
<path stroke="#000000" stroke-width="4" stroke-linecap="round" d="M1192 255.6H1276"/>
<path stroke="#00ff00" stroke-width="4" stroke-linecap="round" d="M1192 303.7H1276"/>
<g font-family="'Liberation Serif','Times New Roman',serif" fill="#000">
<text font-size="37.5" text-anchor="start" transform="translate(1285.6 124.1) scale(1 1.000)">SMC Pitch</text>
<text font-size="37.5" text-anchor="start" transform="translate(1285.6 172.2) scale(1 1.000)">SMC Pitch With Uncertaity</text>
<text font-size="37.5" text-anchor="start" transform="translate(1285.6 220.4) scale(1 1.000)">SSC  Pitch With Uncertaity</text>
<text font-size="37.5" text-anchor="start" transform="translate(1285.6 268.4) scale(1 1.000)">SMC Pitch With Observer</text>
<text font-size="37.5" text-anchor="start" transform="translate(1285.6 316.4) scale(1 1.000)">Observer Estimated Pitch</text>
</g>
</svg>
</body></html>
